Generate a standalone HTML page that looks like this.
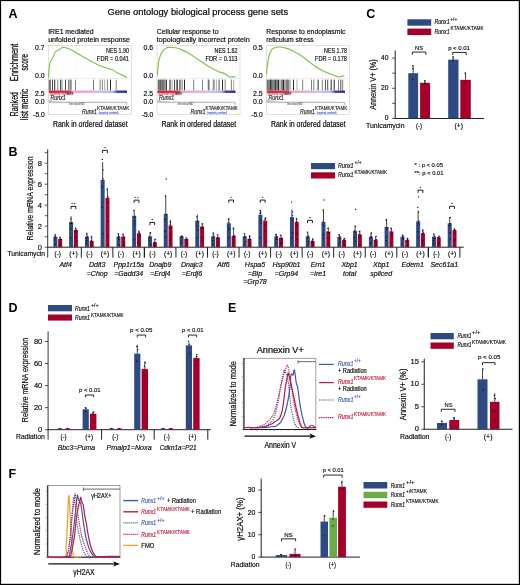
<!DOCTYPE html><html><head><meta charset="utf-8"><style>html,body{margin:0;padding:0;background:#fff;width:520px;height:585px;overflow:hidden}</style></head><body><svg width="520" height="585" viewBox="0 0 520 585" style="display:block;will-change:transform">
<g font-family='"Liberation Sans", sans-serif'>
<rect x="0.00" y="0.00" width="520.00" height="585.00" fill="#000"/>
<rect x="1.10" y="1.10" width="517.70" height="582.70" fill="#fff"/>
<text x="8.40" y="18.10" font-size="12.5" fill="#000" font-weight="bold" >A</text>
<text x="8.40" y="156.20" font-size="12.5" fill="#000" font-weight="bold" >B</text>
<text x="366.30" y="17.90" font-size="12.5" fill="#000" font-weight="bold" >C</text>
<text x="8.40" y="311.90" font-size="12.5" fill="#000" font-weight="bold" >D</text>
<text x="228.00" y="311.90" font-size="12.5" fill="#000" font-weight="bold" >E</text>
<text x="8.40" y="478.10" font-size="12.5" fill="#000" font-weight="bold" >F</text>
<text x="107.60" y="15.10" font-size="9.3" textLength="180.50" lengthAdjust="spacingAndGlyphs" stroke="#231f20" stroke-width="0.239" >Gene ontology biological process gene sets</text>
<text x="17.80" y="62.50" font-size="10.2" text-anchor="middle" textLength="37.50" lengthAdjust="spacingAndGlyphs" stroke="#231f20" stroke-width="0.262" transform="rotate(-90 17.80 62.50)" >Enrichment</text>
<text x="28.20" y="62.30" font-size="10.2" text-anchor="middle" textLength="16.50" lengthAdjust="spacingAndGlyphs" stroke="#231f20" stroke-width="0.262" transform="rotate(-90 28.20 62.30)" >score</text>
<text x="17.80" y="104.20" font-size="10.2" text-anchor="middle" textLength="24.50" lengthAdjust="spacingAndGlyphs" stroke="#231f20" stroke-width="0.262" transform="rotate(-90 17.80 104.20)" >Ranked</text>
<text x="28.40" y="104.40" font-size="10.2" text-anchor="middle" textLength="31.50" lengthAdjust="spacingAndGlyphs" stroke="#231f20" stroke-width="0.262" transform="rotate(-90 28.40 104.40)" >list metric</text>
<text x="48.20" y="33.80" font-size="7.6" textLength="45.40" lengthAdjust="spacingAndGlyphs" stroke="#231f20" stroke-width="0.195" >IRE1 mediated</text>
<text x="48.20" y="42.20" font-size="7.6" textLength="81.80" lengthAdjust="spacingAndGlyphs" stroke="#231f20" stroke-width="0.195" >unfolded protein response</text>
<rect x="48.50" y="45.60" width="83.00" height="69.00" fill="#fff" stroke="#d9d5c3" stroke-width="0.7"/>
<line x1="76.50" y1="46.00" x2="76.50" y2="78.30" stroke="#f3f3f3" stroke-width="0.4" />
<line x1="76.50" y1="93.00" x2="76.50" y2="114.30" stroke="#f3f3f3" stroke-width="0.4" />
<line x1="104.50" y1="46.00" x2="104.50" y2="78.30" stroke="#f3f3f3" stroke-width="0.4" />
<line x1="104.50" y1="93.00" x2="104.50" y2="114.30" stroke="#f3f3f3" stroke-width="0.4" />
<line x1="48.90" y1="54.00" x2="131.10" y2="54.00" stroke="#f3f3f3" stroke-width="0.4" />
<line x1="48.90" y1="62.00" x2="131.10" y2="62.00" stroke="#f3f3f3" stroke-width="0.4" />
<line x1="48.90" y1="70.00" x2="131.10" y2="70.00" stroke="#f3f3f3" stroke-width="0.4" />
<line x1="48.90" y1="101.50" x2="131.10" y2="101.50" stroke="#f3f3f3" stroke-width="0.4" />
<line x1="48.90" y1="108.00" x2="131.10" y2="108.00" stroke="#f3f3f3" stroke-width="0.4" />
<line x1="48.50" y1="78.50" x2="131.50" y2="78.50" stroke="#dcdcdc" stroke-width="0.5" />
<line x1="48.50" y1="93.00" x2="131.50" y2="93.00" stroke="#dcdcdc" stroke-width="0.5" />
<path d="M48.50,77.90 C48.55,76.92 48.70,73.57 48.80,72.00 C48.90,70.43 48.87,70.07 49.10,68.50 C49.33,66.93 49.85,63.93 50.20,62.60 C50.55,61.27 50.92,61.05 51.20,60.50 C51.48,59.95 51.60,59.80 51.90,59.30 C52.20,58.80 52.72,58.07 53.00,57.50 C53.28,56.93 53.22,56.85 53.60,55.90 C53.98,54.95 54.82,52.58 55.30,51.80 C55.78,51.02 56.07,51.43 56.50,51.20 C56.93,50.97 57.45,50.67 57.90,50.40 C58.35,50.13 58.78,49.88 59.20,49.60 C59.62,49.32 59.83,49.07 60.40,48.70 C60.97,48.33 61.75,47.57 62.60,47.40 C63.45,47.23 64.03,47.28 65.50,47.70 C66.97,48.12 69.00,48.68 71.40,49.90 C73.80,51.12 75.67,52.60 79.90,55.00 C84.13,57.40 92.45,62.17 96.80,64.30 C101.15,66.43 103.73,66.95 106.00,67.80 C108.27,68.65 109.40,69.10 110.40,69.40 C111.40,69.70 110.87,69.03 112.00,69.60 C113.13,70.17 114.70,71.50 117.20,72.80 C119.70,74.10 125.37,76.63 127.00,77.40" stroke="#84c04c" stroke-width="1.15" fill="none" stroke-linejoin="round" />
<line x1="49.30" y1="79.60" x2="49.30" y2="90.40" stroke="#444" stroke-width="0.95" />
<line x1="50.50" y1="79.60" x2="50.50" y2="90.40" stroke="#7a7a7a" stroke-width="0.95" />
<line x1="52.50" y1="79.60" x2="52.50" y2="90.40" stroke="#444" stroke-width="0.95" />
<line x1="54.70" y1="79.60" x2="54.70" y2="90.40" stroke="#1e1e1e" stroke-width="0.95" />
<line x1="57.80" y1="79.60" x2="57.80" y2="90.40" stroke="#7a7a7a" stroke-width="0.95" />
<line x1="60.50" y1="79.60" x2="60.50" y2="90.40" stroke="#444" stroke-width="0.95" />
<line x1="62.00" y1="79.60" x2="62.00" y2="90.40" stroke="#7a7a7a" stroke-width="0.95" />
<line x1="65.50" y1="79.60" x2="65.50" y2="90.40" stroke="#444" stroke-width="0.95" />
<line x1="68.50" y1="79.60" x2="68.50" y2="90.40" stroke="#7a7a7a" stroke-width="0.95" />
<line x1="70.10" y1="79.60" x2="70.10" y2="90.40" stroke="#444" stroke-width="0.95" />
<line x1="71.20" y1="79.60" x2="71.20" y2="90.40" stroke="#7a7a7a" stroke-width="0.95" />
<line x1="75.50" y1="79.60" x2="75.50" y2="90.40" stroke="#7a7a7a" stroke-width="0.95" />
<line x1="93.50" y1="79.60" x2="93.50" y2="90.40" stroke="#7a7a7a" stroke-width="0.95" />
<line x1="100.10" y1="79.60" x2="100.10" y2="90.40" stroke="#7a7a7a" stroke-width="0.95" />
<line x1="102.40" y1="79.60" x2="102.40" y2="90.40" stroke="#7a7a7a" stroke-width="0.95" />
<line x1="104.70" y1="79.60" x2="104.70" y2="90.40" stroke="#aaa" stroke-width="0.95" />
<line x1="107.40" y1="79.60" x2="107.40" y2="90.40" stroke="#7a7a7a" stroke-width="0.95" />
<line x1="110.50" y1="79.60" x2="110.50" y2="90.40" stroke="#1e1e1e" stroke-width="0.95" />
<line x1="116.20" y1="79.60" x2="116.20" y2="90.40" stroke="#7a7a7a" stroke-width="0.95" />
<defs><linearGradient id="cb48" x1="0" x2="1"><stop offset="0" stop-color="#cc1f3a"/><stop offset="0.26" stop-color="#d0304a"/><stop offset="0.31" stop-color="#e0a6c8"/><stop offset="0.6" stop-color="#e4b4d6"/><stop offset="0.65" stop-color="#c8c8ec"/><stop offset="0.82" stop-color="#b4b4e4"/><stop offset="0.88" stop-color="#3b3f9e"/><stop offset="1" stop-color="#2b2f8c"/></linearGradient></defs>
<rect x="48.90" y="90.50" width="78.10" height="2.40" fill="url(#cb48)"/>
<path d="M49.0,100.2 C52.5,101.2 58.5,101.9 68.5,102.1 L126.0,102.3 L126.8,105.2 L126.8,102.6 L49.0,102.6 Z" fill="#c4c4c4" stroke="#9a9a9a" stroke-width="0.4"/>
<text x="49.80" y="94.60" font-size="2.6" textLength="22.00" lengthAdjust="spacingAndGlyphs" fill="#d62a3a" stroke="#d62a3a" stroke-width="0.067" >(positively correlated)</text>
<text x="50.50" y="99.50" font-size="7.2" textLength="15.20" lengthAdjust="spacingAndGlyphs" fill="#222" font-style="italic" stroke="#222" stroke-width="0.185" >Runx1</text>
<text x="66.50" y="95.40" font-size="4.8" textLength="7.40" lengthAdjust="spacingAndGlyphs" fill="#333" stroke="#333" stroke-width="0.123" >+/+</text>
<text x="69.00" y="104.60" font-size="2.6" textLength="15.70" lengthAdjust="spacingAndGlyphs" fill="#555" stroke="#555" stroke-width="0.067" >Zero cross at 8802</text>
<text x="82.00" y="113.70" font-size="7.2" textLength="15.00" lengthAdjust="spacingAndGlyphs" fill="#222" font-style="italic" stroke="#222" stroke-width="0.185" >Runx1</text>
<text x="97.10" y="110.40" font-size="4.9" textLength="32.20" lengthAdjust="spacingAndGlyphs" fill="#222" stroke="#222" stroke-width="0.126" >KTAMK/KTAMK</text>
<text x="98.70" y="113.70" font-size="2.6" textLength="19.80" lengthAdjust="spacingAndGlyphs" fill="#3a4ad6" stroke="#3a4ad6" stroke-width="0.067" >(negatively correlated)</text>
<text x="129.00" y="52.60" font-size="6.3" text-anchor="end" textLength="23.00" lengthAdjust="spacingAndGlyphs" stroke="#231f20" stroke-width="0.162" >NES 1.90</text>
<text x="129.00" y="60.50" font-size="6.3" text-anchor="end" textLength="32.00" lengthAdjust="spacingAndGlyphs" stroke="#231f20" stroke-width="0.162" >FDR = 0.041</text>
<text x="44.70" y="50.00" font-size="7.8" text-anchor="end" textLength="9.60" lengthAdjust="spacingAndGlyphs" stroke="#231f20" stroke-width="0.201" >0.7</text>
<text x="44.70" y="78.40" font-size="7.8" text-anchor="end" textLength="9.60" lengthAdjust="spacingAndGlyphs" stroke="#231f20" stroke-width="0.201" >0.0</text>
<text x="44.70" y="96.10" font-size="7.8" text-anchor="end" textLength="9.60" lengthAdjust="spacingAndGlyphs" stroke="#231f20" stroke-width="0.201" >2.5</text>
<text x="44.70" y="103.80" font-size="7.8" text-anchor="end" textLength="9.60" lengthAdjust="spacingAndGlyphs" stroke="#231f20" stroke-width="0.201" >0.0</text>
<text x="44.70" y="116.60" font-size="7.8" text-anchor="end" textLength="11.50" lengthAdjust="spacingAndGlyphs" stroke="#231f20" stroke-width="0.201" >-5.0</text>
<text x="52.90" y="127.10" font-size="8.8" textLength="74.80" lengthAdjust="spacingAndGlyphs" stroke="#231f20" stroke-width="0.226" >Rank in ordered dataset</text>
<text x="156.70" y="33.80" font-size="7.6" textLength="62.00" lengthAdjust="spacingAndGlyphs" stroke="#231f20" stroke-width="0.195" >Cellular response to</text>
<text x="156.70" y="42.20" font-size="7.6" textLength="93.00" lengthAdjust="spacingAndGlyphs" stroke="#231f20" stroke-width="0.195" >topologically incorrect protein</text>
<rect x="157.00" y="45.60" width="83.00" height="69.00" fill="#fff" stroke="#d9d5c3" stroke-width="0.7"/>
<line x1="185.00" y1="46.00" x2="185.00" y2="78.30" stroke="#f3f3f3" stroke-width="0.4" />
<line x1="185.00" y1="93.00" x2="185.00" y2="114.30" stroke="#f3f3f3" stroke-width="0.4" />
<line x1="213.00" y1="46.00" x2="213.00" y2="78.30" stroke="#f3f3f3" stroke-width="0.4" />
<line x1="213.00" y1="93.00" x2="213.00" y2="114.30" stroke="#f3f3f3" stroke-width="0.4" />
<line x1="157.40" y1="54.00" x2="239.60" y2="54.00" stroke="#f3f3f3" stroke-width="0.4" />
<line x1="157.40" y1="62.00" x2="239.60" y2="62.00" stroke="#f3f3f3" stroke-width="0.4" />
<line x1="157.40" y1="70.00" x2="239.60" y2="70.00" stroke="#f3f3f3" stroke-width="0.4" />
<line x1="157.40" y1="101.50" x2="239.60" y2="101.50" stroke="#f3f3f3" stroke-width="0.4" />
<line x1="157.40" y1="108.00" x2="239.60" y2="108.00" stroke="#f3f3f3" stroke-width="0.4" />
<line x1="157.00" y1="78.50" x2="240.00" y2="78.50" stroke="#dcdcdc" stroke-width="0.5" />
<line x1="157.00" y1="93.00" x2="240.00" y2="93.00" stroke="#dcdcdc" stroke-width="0.5" />
<path d="M157.50,75.30 C157.55,74.25 157.67,70.88 157.80,69.00 C157.93,67.12 158.07,65.63 158.30,64.00 C158.53,62.37 158.77,60.83 159.20,59.20 C159.63,57.57 160.40,55.40 160.90,54.20 C161.40,53.00 161.77,52.72 162.20,52.00 C162.63,51.28 162.87,50.53 163.50,49.90 C164.13,49.27 165.17,48.62 166.00,48.20 C166.83,47.78 166.95,47.48 168.50,47.40 C170.05,47.32 173.32,47.42 175.30,47.70 C177.28,47.98 178.15,48.17 180.40,49.10 C182.65,50.03 185.70,51.47 188.80,53.30 C191.90,55.13 195.62,57.85 199.00,60.10 C202.38,62.35 205.72,64.83 209.10,66.80 C212.48,68.77 217.15,70.93 219.30,71.90 C221.45,72.87 220.87,72.17 222.00,72.60 C223.13,73.03 224.72,73.77 226.10,74.50 C227.48,75.23 229.32,76.65 230.30,77.00 C231.28,77.35 231.15,76.60 232.00,76.60 C232.85,76.60 234.83,76.93 235.40,77.00" stroke="#84c04c" stroke-width="1.15" fill="none" stroke-linejoin="round" />
<line x1="158.30" y1="79.60" x2="158.30" y2="90.40" stroke="#444" stroke-width="0.95" />
<line x1="159.50" y1="79.60" x2="159.50" y2="90.40" stroke="#7a7a7a" stroke-width="0.95" />
<line x1="160.40" y1="79.60" x2="160.40" y2="90.40" stroke="#444" stroke-width="0.95" />
<line x1="161.40" y1="79.60" x2="161.40" y2="90.40" stroke="#7a7a7a" stroke-width="0.95" />
<line x1="162.30" y1="79.60" x2="162.30" y2="90.40" stroke="#444" stroke-width="0.95" />
<line x1="163.30" y1="79.60" x2="163.30" y2="90.40" stroke="#7a7a7a" stroke-width="0.95" />
<line x1="164.10" y1="79.60" x2="164.10" y2="90.40" stroke="#444" stroke-width="0.95" />
<line x1="165.20" y1="79.60" x2="165.20" y2="90.40" stroke="#7a7a7a" stroke-width="0.95" />
<line x1="166.40" y1="79.60" x2="166.40" y2="90.40" stroke="#1e1e1e" stroke-width="0.95" />
<line x1="169.50" y1="79.60" x2="169.50" y2="90.40" stroke="#7a7a7a" stroke-width="0.95" />
<line x1="170.60" y1="79.60" x2="170.60" y2="90.40" stroke="#7a7a7a" stroke-width="0.95" />
<line x1="172.20" y1="79.60" x2="172.20" y2="90.40" stroke="#aaa" stroke-width="0.95" />
<line x1="174.50" y1="79.60" x2="174.50" y2="90.40" stroke="#444" stroke-width="0.95" />
<line x1="176.40" y1="79.60" x2="176.40" y2="90.40" stroke="#7a7a7a" stroke-width="0.95" />
<line x1="177.50" y1="79.60" x2="177.50" y2="90.40" stroke="#444" stroke-width="0.95" />
<line x1="179.50" y1="79.60" x2="179.50" y2="90.40" stroke="#7a7a7a" stroke-width="0.95" />
<line x1="180.60" y1="79.60" x2="180.60" y2="90.40" stroke="#7a7a7a" stroke-width="0.95" />
<line x1="182.20" y1="79.60" x2="182.20" y2="90.40" stroke="#7a7a7a" stroke-width="0.95" />
<line x1="184.50" y1="79.60" x2="184.50" y2="90.40" stroke="#1e1e1e" stroke-width="0.95" />
<line x1="193.70" y1="79.60" x2="193.70" y2="90.40" stroke="#7a7a7a" stroke-width="0.95" />
<line x1="202.50" y1="79.60" x2="202.50" y2="90.40" stroke="#7a7a7a" stroke-width="0.95" />
<line x1="208.30" y1="79.60" x2="208.30" y2="90.40" stroke="#444" stroke-width="0.95" />
<line x1="209.10" y1="79.60" x2="209.10" y2="90.40" stroke="#7a7a7a" stroke-width="0.95" />
<line x1="213.30" y1="79.60" x2="213.30" y2="90.40" stroke="#7a7a7a" stroke-width="0.95" />
<line x1="214.10" y1="79.60" x2="214.10" y2="90.40" stroke="#7a7a7a" stroke-width="0.95" />
<line x1="216.40" y1="79.60" x2="216.40" y2="90.40" stroke="#aaa" stroke-width="0.95" />
<line x1="219.10" y1="79.60" x2="219.10" y2="90.40" stroke="#444" stroke-width="0.95" />
<line x1="222.50" y1="79.60" x2="222.50" y2="90.40" stroke="#1e1e1e" stroke-width="0.95" />
<line x1="225.20" y1="79.60" x2="225.20" y2="90.40" stroke="#7a7a7a" stroke-width="0.95" />
<line x1="231.40" y1="79.60" x2="231.40" y2="90.40" stroke="#7a7a7a" stroke-width="0.95" />
<line x1="233.70" y1="79.60" x2="233.70" y2="90.40" stroke="#aaa" stroke-width="0.95" />
<defs><linearGradient id="cb157" x1="0" x2="1"><stop offset="0" stop-color="#cc1f3a"/><stop offset="0.26" stop-color="#d0304a"/><stop offset="0.31" stop-color="#e0a6c8"/><stop offset="0.6" stop-color="#e4b4d6"/><stop offset="0.65" stop-color="#c8c8ec"/><stop offset="0.82" stop-color="#b4b4e4"/><stop offset="0.88" stop-color="#3b3f9e"/><stop offset="1" stop-color="#2b2f8c"/></linearGradient></defs>
<rect x="157.40" y="90.50" width="78.10" height="2.40" fill="url(#cb157)"/>
<path d="M157.5,100.2 C161,101.2 167,101.9 177,102.1 L234.5,102.3 L235.3,105.2 L235.3,102.6 L157.5,102.6 Z" fill="#c4c4c4" stroke="#9a9a9a" stroke-width="0.4"/>
<text x="158.30" y="94.60" font-size="2.6" textLength="22.00" lengthAdjust="spacingAndGlyphs" fill="#d62a3a" stroke="#d62a3a" stroke-width="0.067" >(positively correlated)</text>
<text x="159.00" y="99.50" font-size="7.2" textLength="15.20" lengthAdjust="spacingAndGlyphs" fill="#222" font-style="italic" stroke="#222" stroke-width="0.185" >Runx1</text>
<text x="175.00" y="95.40" font-size="4.8" textLength="7.40" lengthAdjust="spacingAndGlyphs" fill="#333" stroke="#333" stroke-width="0.123" >+/+</text>
<text x="177.50" y="104.60" font-size="2.6" textLength="15.70" lengthAdjust="spacingAndGlyphs" fill="#555" stroke="#555" stroke-width="0.067" >Zero cross at 8802</text>
<text x="190.50" y="113.70" font-size="7.2" textLength="15.00" lengthAdjust="spacingAndGlyphs" fill="#222" font-style="italic" stroke="#222" stroke-width="0.185" >Runx1</text>
<text x="205.60" y="110.40" font-size="4.9" textLength="32.20" lengthAdjust="spacingAndGlyphs" fill="#222" stroke="#222" stroke-width="0.126" >KTAMK/KTAMK</text>
<text x="207.20" y="113.70" font-size="2.6" textLength="19.80" lengthAdjust="spacingAndGlyphs" fill="#3a4ad6" stroke="#3a4ad6" stroke-width="0.067" >(negatively correlated)</text>
<text x="237.50" y="52.60" font-size="6.3" text-anchor="end" textLength="23.00" lengthAdjust="spacingAndGlyphs" stroke="#231f20" stroke-width="0.162" >NES 1.82</text>
<text x="237.50" y="60.50" font-size="6.3" text-anchor="end" textLength="32.00" lengthAdjust="spacingAndGlyphs" stroke="#231f20" stroke-width="0.162" >FDR = 0.113</text>
<text x="153.20" y="50.00" font-size="7.8" text-anchor="end" textLength="9.60" lengthAdjust="spacingAndGlyphs" stroke="#231f20" stroke-width="0.201" >0.6</text>
<text x="153.20" y="78.40" font-size="7.8" text-anchor="end" textLength="9.60" lengthAdjust="spacingAndGlyphs" stroke="#231f20" stroke-width="0.201" >0.0</text>
<text x="153.20" y="96.10" font-size="7.8" text-anchor="end" textLength="9.60" lengthAdjust="spacingAndGlyphs" stroke="#231f20" stroke-width="0.201" >2.5</text>
<text x="153.20" y="103.80" font-size="7.8" text-anchor="end" textLength="9.60" lengthAdjust="spacingAndGlyphs" stroke="#231f20" stroke-width="0.201" >0.0</text>
<text x="153.20" y="116.60" font-size="7.8" text-anchor="end" textLength="11.50" lengthAdjust="spacingAndGlyphs" stroke="#231f20" stroke-width="0.201" >-5.0</text>
<text x="161.40" y="127.10" font-size="8.8" textLength="74.80" lengthAdjust="spacingAndGlyphs" stroke="#231f20" stroke-width="0.226" >Rank in ordered dataset</text>
<text x="266.20" y="33.80" font-size="7.6" textLength="79.20" lengthAdjust="spacingAndGlyphs" stroke="#231f20" stroke-width="0.195" >Response to endoplasmic</text>
<text x="266.20" y="42.20" font-size="7.6" textLength="47.50" lengthAdjust="spacingAndGlyphs" stroke="#231f20" stroke-width="0.195" >reticulum stress</text>
<rect x="266.50" y="45.60" width="83.00" height="69.00" fill="#fff" stroke="#d9d5c3" stroke-width="0.7"/>
<line x1="294.50" y1="46.00" x2="294.50" y2="78.30" stroke="#f3f3f3" stroke-width="0.4" />
<line x1="294.50" y1="93.00" x2="294.50" y2="114.30" stroke="#f3f3f3" stroke-width="0.4" />
<line x1="322.50" y1="46.00" x2="322.50" y2="78.30" stroke="#f3f3f3" stroke-width="0.4" />
<line x1="322.50" y1="93.00" x2="322.50" y2="114.30" stroke="#f3f3f3" stroke-width="0.4" />
<line x1="266.90" y1="54.00" x2="349.10" y2="54.00" stroke="#f3f3f3" stroke-width="0.4" />
<line x1="266.90" y1="62.00" x2="349.10" y2="62.00" stroke="#f3f3f3" stroke-width="0.4" />
<line x1="266.90" y1="70.00" x2="349.10" y2="70.00" stroke="#f3f3f3" stroke-width="0.4" />
<line x1="266.90" y1="101.50" x2="349.10" y2="101.50" stroke="#f3f3f3" stroke-width="0.4" />
<line x1="266.90" y1="108.00" x2="349.10" y2="108.00" stroke="#f3f3f3" stroke-width="0.4" />
<line x1="266.50" y1="78.50" x2="349.50" y2="78.50" stroke="#dcdcdc" stroke-width="0.5" />
<line x1="266.50" y1="93.00" x2="349.50" y2="93.00" stroke="#dcdcdc" stroke-width="0.5" />
<path d="M266.50,74.50 C266.58,73.42 266.83,69.70 267.00,68.00 C267.17,66.30 267.15,66.33 267.50,64.30 C267.85,62.27 268.42,58.20 269.10,55.80 C269.78,53.40 270.62,51.25 271.60,49.90 C272.58,48.55 273.73,48.18 275.00,47.70 C276.27,47.22 277.65,47.00 279.20,47.00 C280.75,47.00 282.32,47.22 284.30,47.70 C286.28,48.18 288.28,48.55 291.10,49.90 C293.92,51.25 297.82,53.53 301.20,55.80 C304.58,58.07 308.02,61.10 311.40,63.50 C314.78,65.90 318.12,68.37 321.50,70.20 C324.88,72.03 328.87,73.37 331.70,74.50 C334.53,75.63 336.82,76.73 338.50,77.00 C340.18,77.27 340.82,76.30 341.80,76.10 C342.78,75.90 343.97,75.85 344.40,75.80" stroke="#84c04c" stroke-width="1.15" fill="none" stroke-linejoin="round" />
<line x1="267.30" y1="79.60" x2="267.30" y2="90.40" stroke="#444" stroke-width="0.95" />
<line x1="268.50" y1="79.60" x2="268.50" y2="90.40" stroke="#7a7a7a" stroke-width="0.95" />
<line x1="269.50" y1="79.60" x2="269.50" y2="90.40" stroke="#7a7a7a" stroke-width="0.95" />
<line x1="270.50" y1="79.60" x2="270.50" y2="90.40" stroke="#1e1e1e" stroke-width="0.95" />
<line x1="271.30" y1="79.60" x2="271.30" y2="90.40" stroke="#7a7a7a" stroke-width="0.95" />
<line x1="272.10" y1="79.60" x2="272.10" y2="90.40" stroke="#1e1e1e" stroke-width="0.95" />
<line x1="273.60" y1="79.60" x2="273.60" y2="90.40" stroke="#7a7a7a" stroke-width="0.95" />
<line x1="274.50" y1="79.60" x2="274.50" y2="90.40" stroke="#7a7a7a" stroke-width="0.95" />
<line x1="275.40" y1="79.60" x2="275.40" y2="90.40" stroke="#1e1e1e" stroke-width="0.95" />
<line x1="276.50" y1="79.60" x2="276.50" y2="90.40" stroke="#7a7a7a" stroke-width="0.95" />
<line x1="277.50" y1="79.60" x2="277.50" y2="90.40" stroke="#7a7a7a" stroke-width="0.95" />
<line x1="278.50" y1="79.60" x2="278.50" y2="90.40" stroke="#1e1e1e" stroke-width="0.95" />
<line x1="280.00" y1="79.60" x2="280.00" y2="90.40" stroke="#7a7a7a" stroke-width="0.95" />
<line x1="281.50" y1="79.60" x2="281.50" y2="90.40" stroke="#7a7a7a" stroke-width="0.95" />
<line x1="282.50" y1="79.60" x2="282.50" y2="90.40" stroke="#7a7a7a" stroke-width="0.95" />
<line x1="283.50" y1="79.60" x2="283.50" y2="90.40" stroke="#1e1e1e" stroke-width="0.95" />
<line x1="284.80" y1="79.60" x2="284.80" y2="90.40" stroke="#7a7a7a" stroke-width="0.95" />
<line x1="286.20" y1="79.60" x2="286.20" y2="90.40" stroke="#444" stroke-width="0.95" />
<line x1="287.10" y1="79.60" x2="287.10" y2="90.40" stroke="#7a7a7a" stroke-width="0.95" />
<line x1="288.10" y1="79.60" x2="288.10" y2="90.40" stroke="#1e1e1e" stroke-width="0.95" />
<line x1="290.00" y1="79.60" x2="290.00" y2="90.40" stroke="#7a7a7a" stroke-width="0.95" />
<line x1="293.50" y1="79.60" x2="293.50" y2="90.40" stroke="#1e1e1e" stroke-width="0.95" />
<line x1="297.00" y1="79.60" x2="297.00" y2="90.40" stroke="#aaa" stroke-width="0.95" />
<line x1="302.70" y1="79.60" x2="302.70" y2="90.40" stroke="#7a7a7a" stroke-width="0.95" />
<line x1="311.50" y1="79.60" x2="311.50" y2="90.40" stroke="#7a7a7a" stroke-width="0.95" />
<line x1="313.80" y1="79.60" x2="313.80" y2="90.40" stroke="#7a7a7a" stroke-width="0.95" />
<line x1="318.10" y1="79.60" x2="318.10" y2="90.40" stroke="#1e1e1e" stroke-width="0.95" />
<line x1="322.30" y1="79.60" x2="322.30" y2="90.40" stroke="#7a7a7a" stroke-width="0.95" />
<line x1="325.40" y1="79.60" x2="325.40" y2="90.40" stroke="#444" stroke-width="0.95" />
<line x1="327.70" y1="79.60" x2="327.70" y2="90.40" stroke="#444" stroke-width="0.95" />
<line x1="331.20" y1="79.60" x2="331.20" y2="90.40" stroke="#1e1e1e" stroke-width="0.95" />
<line x1="334.20" y1="79.60" x2="334.20" y2="90.40" stroke="#1e1e1e" stroke-width="0.95" />
<line x1="338.50" y1="79.60" x2="338.50" y2="90.40" stroke="#7a7a7a" stroke-width="0.95" />
<line x1="340.80" y1="79.60" x2="340.80" y2="90.40" stroke="#444" stroke-width="0.95" />
<line x1="342.70" y1="79.60" x2="342.70" y2="90.40" stroke="#7a7a7a" stroke-width="0.95" />
<defs><linearGradient id="cb266" x1="0" x2="1"><stop offset="0" stop-color="#cc1f3a"/><stop offset="0.26" stop-color="#d0304a"/><stop offset="0.31" stop-color="#e0a6c8"/><stop offset="0.6" stop-color="#e4b4d6"/><stop offset="0.65" stop-color="#c8c8ec"/><stop offset="0.82" stop-color="#b4b4e4"/><stop offset="0.88" stop-color="#3b3f9e"/><stop offset="1" stop-color="#2b2f8c"/></linearGradient></defs>
<rect x="266.90" y="90.50" width="78.10" height="2.40" fill="url(#cb266)"/>
<path d="M267.0,100.2 C270.5,101.2 276.5,101.9 286.5,102.1 L344.0,102.3 L344.8,105.2 L344.8,102.6 L267.0,102.6 Z" fill="#c4c4c4" stroke="#9a9a9a" stroke-width="0.4"/>
<text x="267.80" y="94.60" font-size="2.6" textLength="22.00" lengthAdjust="spacingAndGlyphs" fill="#d62a3a" stroke="#d62a3a" stroke-width="0.067" >(positively correlated)</text>
<text x="268.50" y="99.50" font-size="7.2" textLength="15.20" lengthAdjust="spacingAndGlyphs" fill="#222" font-style="italic" stroke="#222" stroke-width="0.185" >Runx1</text>
<text x="284.50" y="95.40" font-size="4.8" textLength="7.40" lengthAdjust="spacingAndGlyphs" fill="#333" stroke="#333" stroke-width="0.123" >+/+</text>
<text x="287.00" y="104.60" font-size="2.6" textLength="15.70" lengthAdjust="spacingAndGlyphs" fill="#555" stroke="#555" stroke-width="0.067" >Zero cross at 8802</text>
<text x="300.00" y="113.70" font-size="7.2" textLength="15.00" lengthAdjust="spacingAndGlyphs" fill="#222" font-style="italic" stroke="#222" stroke-width="0.185" >Runx1</text>
<text x="315.10" y="110.40" font-size="4.9" textLength="32.20" lengthAdjust="spacingAndGlyphs" fill="#222" stroke="#222" stroke-width="0.126" >KTAMK/KTAMK</text>
<text x="316.70" y="113.70" font-size="2.6" textLength="19.80" lengthAdjust="spacingAndGlyphs" fill="#3a4ad6" stroke="#3a4ad6" stroke-width="0.067" >(negatively correlated)</text>
<text x="347.00" y="52.60" font-size="6.3" text-anchor="end" textLength="23.00" lengthAdjust="spacingAndGlyphs" stroke="#231f20" stroke-width="0.162" >NES 1.78</text>
<text x="347.00" y="60.50" font-size="6.3" text-anchor="end" textLength="32.00" lengthAdjust="spacingAndGlyphs" stroke="#231f20" stroke-width="0.162" >FDR = 0.178</text>
<text x="262.70" y="50.00" font-size="7.8" text-anchor="end" textLength="9.60" lengthAdjust="spacingAndGlyphs" stroke="#231f20" stroke-width="0.201" >0.5</text>
<text x="262.70" y="78.40" font-size="7.8" text-anchor="end" textLength="9.60" lengthAdjust="spacingAndGlyphs" stroke="#231f20" stroke-width="0.201" >0.0</text>
<text x="262.70" y="96.10" font-size="7.8" text-anchor="end" textLength="9.60" lengthAdjust="spacingAndGlyphs" stroke="#231f20" stroke-width="0.201" >2.5</text>
<text x="262.70" y="103.80" font-size="7.8" text-anchor="end" textLength="9.60" lengthAdjust="spacingAndGlyphs" stroke="#231f20" stroke-width="0.201" >0.0</text>
<text x="262.70" y="116.60" font-size="7.8" text-anchor="end" textLength="11.50" lengthAdjust="spacingAndGlyphs" stroke="#231f20" stroke-width="0.201" >-5.0</text>
<text x="270.90" y="127.10" font-size="8.8" textLength="74.80" lengthAdjust="spacingAndGlyphs" stroke="#231f20" stroke-width="0.226" >Rank in ordered dataset</text>
<rect x="407.40" y="19.30" width="23.80" height="6.40" fill="#2d4a82"/>
<rect x="407.40" y="28.60" width="23.80" height="6.50" fill="#a5002b"/>
<text x="434.40" y="24.40" font-size="6.5" textLength="15.20" lengthAdjust="spacingAndGlyphs" font-style="italic" stroke="#231f20" stroke-width="0.167" >Runx1</text>
<text x="450.30" y="21.00" font-size="4.8" textLength="7.00" lengthAdjust="spacingAndGlyphs" stroke="#231f20" stroke-width="0.123" >+/+</text>
<text x="434.40" y="33.80" font-size="6.5" textLength="15.20" lengthAdjust="spacingAndGlyphs" font-style="italic" stroke="#231f20" stroke-width="0.167" >Runx1</text>
<text x="450.60" y="30.20" font-size="4.8" textLength="33.00" lengthAdjust="spacingAndGlyphs" stroke="#231f20" stroke-width="0.123" >KTAMK/KTAMK</text>
<line x1="395.20" y1="50.60" x2="395.20" y2="118.90" stroke="#231f20" stroke-width="1.0" />
<line x1="394.70" y1="118.50" x2="484.00" y2="118.50" stroke="#231f20" stroke-width="1.0" />
<line x1="392.20" y1="118.40" x2="395.20" y2="118.40" stroke="#231f20" stroke-width="0.8" />
<line x1="392.20" y1="103.33" x2="395.20" y2="103.33" stroke="#231f20" stroke-width="0.8" />
<line x1="392.20" y1="88.26" x2="395.20" y2="88.26" stroke="#231f20" stroke-width="0.8" />
<line x1="392.20" y1="73.19" x2="395.20" y2="73.19" stroke="#231f20" stroke-width="0.8" />
<line x1="392.20" y1="58.12" x2="395.20" y2="58.12" stroke="#231f20" stroke-width="0.8" />
<text x="388.60" y="120.40" font-size="7.6" text-anchor="end" textLength="3.75" lengthAdjust="spacingAndGlyphs" stroke="#231f20" stroke-width="0.195" >0</text>
<text x="388.60" y="90.26" font-size="7.6" text-anchor="end" textLength="7.50" lengthAdjust="spacingAndGlyphs" stroke="#231f20" stroke-width="0.195" >20</text>
<text x="388.60" y="60.12" font-size="7.6" text-anchor="end" textLength="7.50" lengthAdjust="spacingAndGlyphs" stroke="#231f20" stroke-width="0.195" >40</text>
<rect x="408.30" y="73.19" width="9.80" height="45.21" fill="#2d4a82"/>
<line x1="413.20" y1="73.19" x2="413.20" y2="65.66" stroke="#231f20" stroke-width="0.85" />
<ellipse cx="412.80" cy="65.66" rx="0.75" ry="0.65" fill="#111"/>
<ellipse cx="412.80" cy="68.67" rx="0.75" ry="0.65" fill="#111"/>
<ellipse cx="412.80" cy="79.22" rx="0.75" ry="0.65" fill="#111"/>
<rect x="420.10" y="82.83" width="10.00" height="35.57" fill="#a5002b"/>
<line x1="425.10" y1="82.83" x2="425.10" y2="80.42" stroke="#231f20" stroke-width="0.85" />
<ellipse cx="424.70" cy="80.73" rx="0.75" ry="0.65" fill="#111"/>
<ellipse cx="424.70" cy="82.99" rx="0.75" ry="0.65" fill="#111"/>
<ellipse cx="424.70" cy="83.74" rx="0.75" ry="0.65" fill="#111"/>
<rect x="448.20" y="59.63" width="10.30" height="58.77" fill="#2d4a82"/>
<line x1="453.35" y1="59.63" x2="453.35" y2="56.61" stroke="#231f20" stroke-width="0.85" />
<ellipse cx="452.95" cy="56.61" rx="0.75" ry="0.65" fill="#111"/>
<ellipse cx="452.95" cy="58.87" rx="0.75" ry="0.65" fill="#111"/>
<ellipse cx="452.95" cy="61.13" rx="0.75" ry="0.65" fill="#111"/>
<rect x="460.30" y="79.82" width="10.50" height="38.58" fill="#a5002b"/>
<line x1="465.55" y1="79.82" x2="465.55" y2="72.44" stroke="#231f20" stroke-width="0.85" />
<ellipse cx="465.15" cy="73.19" rx="0.75" ry="0.65" fill="#111"/>
<ellipse cx="466.05" cy="81.48" rx="0.75" ry="0.65" fill="#111"/>
<path d="M412.30,54.40 L412.30,52.05 L425.80,52.05 L425.80,54.40" stroke="#111" stroke-width="0.9" fill="none" stroke-linejoin="round" stroke-linecap="square"/>
<path d="M452.80,54.60 L452.80,52.45 L466.20,52.45 L466.20,54.60" stroke="#111" stroke-width="0.9" fill="none" stroke-linejoin="round" stroke-linecap="square"/>
<text x="419.00" y="49.90" font-size="6.2" text-anchor="middle" textLength="8.20" lengthAdjust="spacingAndGlyphs" stroke="#231f20" stroke-width="0.159" >NS</text>
<text x="459.00" y="49.90" font-size="6.2" text-anchor="middle" textLength="21.70" lengthAdjust="spacingAndGlyphs" stroke="#231f20" stroke-width="0.159" >p &lt; 0.01</text>
<text x="376.00" y="84.60" font-size="8.6" text-anchor="middle" textLength="50.50" lengthAdjust="spacingAndGlyphs" stroke="#231f20" stroke-width="0.221" transform="rotate(-90 376.00 84.60)" >Annexin V+ (%)</text>
<text x="366.00" y="128.30" font-size="7" textLength="38.50" lengthAdjust="spacingAndGlyphs" stroke="#231f20" stroke-width="0.180" >Tunicamycin</text>
<text x="419.00" y="128.30" font-size="6.8" text-anchor="middle" textLength="6.00" lengthAdjust="spacingAndGlyphs" stroke="#231f20" stroke-width="0.175" >(-)</text>
<text x="458.80" y="128.30" font-size="6.8" text-anchor="middle" textLength="8.40" lengthAdjust="spacingAndGlyphs" stroke="#231f20" stroke-width="0.175" >(+)</text>
<line x1="47.70" y1="149.20" x2="47.70" y2="257.60" stroke="#231f20" stroke-width="0.9" />
<line x1="47.30" y1="247.20" x2="463.80" y2="247.20" stroke="#231f20" stroke-width="1.0" />
<line x1="44.60" y1="247.20" x2="47.70" y2="247.20" stroke="#231f20" stroke-width="0.7" />
<line x1="44.60" y1="236.70" x2="47.70" y2="236.70" stroke="#231f20" stroke-width="0.7" />
<line x1="44.60" y1="226.20" x2="47.70" y2="226.20" stroke="#231f20" stroke-width="0.7" />
<line x1="44.60" y1="215.70" x2="47.70" y2="215.70" stroke="#231f20" stroke-width="0.7" />
<line x1="44.60" y1="205.20" x2="47.70" y2="205.20" stroke="#231f20" stroke-width="0.7" />
<line x1="44.60" y1="194.70" x2="47.70" y2="194.70" stroke="#231f20" stroke-width="0.7" />
<line x1="44.60" y1="184.20" x2="47.70" y2="184.20" stroke="#231f20" stroke-width="0.7" />
<line x1="44.60" y1="173.70" x2="47.70" y2="173.70" stroke="#231f20" stroke-width="0.7" />
<line x1="44.60" y1="163.20" x2="47.70" y2="163.20" stroke="#231f20" stroke-width="0.7" />
<line x1="44.60" y1="152.70" x2="47.70" y2="152.70" stroke="#231f20" stroke-width="0.7" />
<text x="41.90" y="249.70" font-size="7.6" text-anchor="end" stroke="#231f20" stroke-width="0.195" >0</text>
<text x="41.90" y="228.70" font-size="7.6" text-anchor="end" stroke="#231f20" stroke-width="0.195" >2</text>
<text x="41.90" y="207.70" font-size="7.6" text-anchor="end" stroke="#231f20" stroke-width="0.195" >4</text>
<text x="41.90" y="186.70" font-size="7.6" text-anchor="end" stroke="#231f20" stroke-width="0.195" >6</text>
<text x="41.90" y="165.70" font-size="7.6" text-anchor="end" stroke="#231f20" stroke-width="0.195" >8</text>
<text x="33.40" y="198.40" font-size="8.4" text-anchor="middle" textLength="84.00" lengthAdjust="spacingAndGlyphs" stroke="#231f20" stroke-width="0.216" transform="rotate(-90 33.40 198.40)" >Relative mRNA expression</text>
<text x="7.50" y="256.10" font-size="7" textLength="37.50" lengthAdjust="spacingAndGlyphs" stroke="#231f20" stroke-width="0.180" >Tunicamycin</text>
<line x1="81.30" y1="247.20" x2="81.30" y2="257.60" stroke="#231f20" stroke-width="1.0" />
<line x1="112.85" y1="247.20" x2="112.85" y2="257.60" stroke="#231f20" stroke-width="1.0" />
<line x1="144.40" y1="247.20" x2="144.40" y2="257.60" stroke="#231f20" stroke-width="1.3" />
<line x1="175.95" y1="247.20" x2="175.95" y2="257.60" stroke="#231f20" stroke-width="1.0" />
<line x1="207.50" y1="247.20" x2="207.50" y2="257.60" stroke="#231f20" stroke-width="1.0" />
<line x1="239.05" y1="247.20" x2="239.05" y2="257.60" stroke="#231f20" stroke-width="1.0" />
<line x1="270.60" y1="247.20" x2="270.60" y2="257.60" stroke="#231f20" stroke-width="1.0" />
<line x1="302.15" y1="247.20" x2="302.15" y2="257.60" stroke="#231f20" stroke-width="1.0" />
<line x1="333.70" y1="247.20" x2="333.70" y2="257.60" stroke="#231f20" stroke-width="1.0" />
<line x1="365.25" y1="247.20" x2="365.25" y2="257.60" stroke="#231f20" stroke-width="1.0" />
<line x1="396.80" y1="247.20" x2="396.80" y2="257.60" stroke="#231f20" stroke-width="1.0" />
<line x1="428.35" y1="247.20" x2="428.35" y2="257.60" stroke="#231f20" stroke-width="1.3" />
<line x1="459.90" y1="247.20" x2="459.90" y2="257.60" stroke="#231f20" stroke-width="1.0" />
<rect x="53.40" y="236.70" width="4.00" height="10.50" fill="#2d4a82"/>
<line x1="55.40" y1="236.70" x2="55.40" y2="234.07" stroke="#231f20" stroke-width="0.85" />
<ellipse cx="55.00" cy="239.82" rx="0.75" ry="0.65" fill="#111"/>
<ellipse cx="55.00" cy="237.61" rx="0.75" ry="0.65" fill="#111"/>
<ellipse cx="55.00" cy="236.78" rx="0.75" ry="0.65" fill="#111"/>
<ellipse cx="55.00" cy="235.05" rx="0.75" ry="0.65" fill="#111"/>
<ellipse cx="55.00" cy="244.03" rx="0.75" ry="0.65" fill="#111"/>
<rect x="58.15" y="239.01" width="4.00" height="8.19" fill="#a5002b"/>
<line x1="60.15" y1="239.01" x2="60.15" y2="236.70" stroke="#231f20" stroke-width="0.85" />
<ellipse cx="59.75" cy="243.18" rx="0.75" ry="0.65" fill="#111"/>
<ellipse cx="60.65" cy="239.61" rx="0.75" ry="0.65" fill="#111"/>
<ellipse cx="60.65" cy="238.79" rx="0.75" ry="0.65" fill="#111"/>
<ellipse cx="59.75" cy="237.56" rx="0.75" ry="0.65" fill="#111"/>
<ellipse cx="60.65" cy="244.75" rx="0.75" ry="0.65" fill="#111"/>
<rect x="69.10" y="222.00" width="4.00" height="25.20" fill="#2d4a82"/>
<line x1="71.10" y1="222.00" x2="71.10" y2="216.22" stroke="#231f20" stroke-width="0.85" />
<ellipse cx="70.70" cy="228.63" rx="0.75" ry="0.65" fill="#111"/>
<ellipse cx="71.60" cy="223.46" rx="0.75" ry="0.65" fill="#111"/>
<ellipse cx="70.70" cy="223.12" rx="0.75" ry="0.65" fill="#111"/>
<ellipse cx="70.70" cy="218.87" rx="0.75" ry="0.65" fill="#111"/>
<ellipse cx="70.70" cy="237.95" rx="0.75" ry="0.65" fill="#111"/>
<rect x="73.90" y="229.88" width="4.00" height="17.32" fill="#a5002b"/>
<line x1="75.90" y1="229.88" x2="75.90" y2="227.77" stroke="#231f20" stroke-width="0.85" />
<ellipse cx="75.50" cy="238.17" rx="0.75" ry="0.65" fill="#111"/>
<ellipse cx="75.50" cy="231.93" rx="0.75" ry="0.65" fill="#111"/>
<ellipse cx="76.40" cy="230.10" rx="0.75" ry="0.65" fill="#111"/>
<ellipse cx="75.50" cy="228.19" rx="0.75" ry="0.65" fill="#111"/>
<ellipse cx="76.40" cy="241.57" rx="0.75" ry="0.65" fill="#111"/>
<text x="57.80" y="256.30" font-size="6.6" text-anchor="middle" textLength="6.40" lengthAdjust="spacingAndGlyphs" stroke="#231f20" stroke-width="0.170" >(-)</text>
<text x="73.50" y="256.30" font-size="6.6" text-anchor="middle" textLength="8.40" lengthAdjust="spacingAndGlyphs" stroke="#231f20" stroke-width="0.170" >(+)</text>
<rect x="84.95" y="236.70" width="4.00" height="10.50" fill="#2d4a82"/>
<line x1="86.95" y1="236.70" x2="86.95" y2="232.50" stroke="#231f20" stroke-width="0.85" />
<ellipse cx="86.55" cy="240.68" rx="0.75" ry="0.65" fill="#111"/>
<ellipse cx="86.55" cy="238.12" rx="0.75" ry="0.65" fill="#111"/>
<ellipse cx="87.45" cy="236.62" rx="0.75" ry="0.65" fill="#111"/>
<ellipse cx="86.55" cy="234.17" rx="0.75" ry="0.65" fill="#111"/>
<ellipse cx="86.55" cy="243.39" rx="0.75" ry="0.65" fill="#111"/>
<rect x="89.70" y="240.90" width="4.00" height="6.30" fill="#a5002b"/>
<line x1="91.70" y1="240.90" x2="91.70" y2="235.65" stroke="#231f20" stroke-width="0.85" />
<ellipse cx="91.30" cy="243.51" rx="0.75" ry="0.65" fill="#111"/>
<ellipse cx="92.20" cy="241.63" rx="0.75" ry="0.65" fill="#111"/>
<ellipse cx="91.30" cy="240.63" rx="0.75" ry="0.65" fill="#111"/>
<ellipse cx="91.30" cy="237.05" rx="0.75" ry="0.65" fill="#111"/>
<ellipse cx="92.20" cy="245.30" rx="0.75" ry="0.65" fill="#111"/>
<rect x="100.65" y="180.00" width="4.00" height="67.20" fill="#2d4a82"/>
<line x1="102.65" y1="180.00" x2="102.65" y2="162.15" stroke="#231f20" stroke-width="0.85" />
<ellipse cx="102.25" cy="207.39" rx="0.75" ry="0.65" fill="#111"/>
<ellipse cx="102.25" cy="186.81" rx="0.75" ry="0.65" fill="#111"/>
<ellipse cx="103.15" cy="178.88" rx="0.75" ry="0.65" fill="#111"/>
<ellipse cx="103.15" cy="169.80" rx="0.75" ry="0.65" fill="#111"/>
<ellipse cx="103.15" cy="233.61" rx="0.75" ry="0.65" fill="#111"/>
<ellipse cx="102.25" cy="159.42" rx="0.75" ry="0.65" fill="#111"/>
<rect x="105.45" y="197.85" width="4.00" height="49.35" fill="#a5002b"/>
<line x1="107.45" y1="197.85" x2="107.45" y2="188.40" stroke="#231f20" stroke-width="0.85" />
<ellipse cx="107.95" cy="221.16" rx="0.75" ry="0.65" fill="#111"/>
<ellipse cx="107.95" cy="202.65" rx="0.75" ry="0.65" fill="#111"/>
<ellipse cx="107.95" cy="196.94" rx="0.75" ry="0.65" fill="#111"/>
<ellipse cx="107.05" cy="189.11" rx="0.75" ry="0.65" fill="#111"/>
<ellipse cx="107.95" cy="235.50" rx="0.75" ry="0.65" fill="#111"/>
<text x="89.35" y="256.30" font-size="6.6" text-anchor="middle" textLength="6.40" lengthAdjust="spacingAndGlyphs" stroke="#231f20" stroke-width="0.170" >(-)</text>
<text x="105.05" y="256.30" font-size="6.6" text-anchor="middle" textLength="8.40" lengthAdjust="spacingAndGlyphs" stroke="#231f20" stroke-width="0.170" >(+)</text>
<rect x="116.50" y="236.70" width="4.00" height="10.50" fill="#2d4a82"/>
<line x1="118.50" y1="236.70" x2="118.50" y2="233.55" stroke="#231f20" stroke-width="0.85" />
<ellipse cx="119.00" cy="239.62" rx="0.75" ry="0.65" fill="#111"/>
<ellipse cx="118.10" cy="237.72" rx="0.75" ry="0.65" fill="#111"/>
<ellipse cx="119.00" cy="236.42" rx="0.75" ry="0.65" fill="#111"/>
<ellipse cx="118.10" cy="233.70" rx="0.75" ry="0.65" fill="#111"/>
<ellipse cx="119.00" cy="244.55" rx="0.75" ry="0.65" fill="#111"/>
<rect x="121.25" y="236.70" width="4.00" height="10.50" fill="#a5002b"/>
<line x1="123.25" y1="236.70" x2="123.25" y2="233.55" stroke="#231f20" stroke-width="0.85" />
<ellipse cx="123.75" cy="241.96" rx="0.75" ry="0.65" fill="#111"/>
<ellipse cx="122.85" cy="237.71" rx="0.75" ry="0.65" fill="#111"/>
<ellipse cx="123.75" cy="236.56" rx="0.75" ry="0.65" fill="#111"/>
<ellipse cx="122.85" cy="234.37" rx="0.75" ry="0.65" fill="#111"/>
<ellipse cx="123.75" cy="244.65" rx="0.75" ry="0.65" fill="#111"/>
<rect x="132.20" y="215.70" width="4.00" height="31.50" fill="#2d4a82"/>
<line x1="134.20" y1="215.70" x2="134.20" y2="210.45" stroke="#231f20" stroke-width="0.85" />
<ellipse cx="134.70" cy="223.97" rx="0.75" ry="0.65" fill="#111"/>
<ellipse cx="134.70" cy="221.34" rx="0.75" ry="0.65" fill="#111"/>
<ellipse cx="134.70" cy="217.20" rx="0.75" ry="0.65" fill="#111"/>
<ellipse cx="133.80" cy="210.45" rx="0.75" ry="0.65" fill="#111"/>
<ellipse cx="133.80" cy="239.74" rx="0.75" ry="0.65" fill="#111"/>
<rect x="137.00" y="233.44" width="4.00" height="13.75" fill="#a5002b"/>
<line x1="139.00" y1="233.44" x2="139.00" y2="230.40" stroke="#231f20" stroke-width="0.85" />
<ellipse cx="138.60" cy="237.19" rx="0.75" ry="0.65" fill="#111"/>
<ellipse cx="138.60" cy="234.24" rx="0.75" ry="0.65" fill="#111"/>
<ellipse cx="139.50" cy="232.91" rx="0.75" ry="0.65" fill="#111"/>
<ellipse cx="138.60" cy="231.80" rx="0.75" ry="0.65" fill="#111"/>
<ellipse cx="138.60" cy="242.82" rx="0.75" ry="0.65" fill="#111"/>
<text x="120.90" y="256.30" font-size="6.6" text-anchor="middle" textLength="6.40" lengthAdjust="spacingAndGlyphs" stroke="#231f20" stroke-width="0.170" >(-)</text>
<text x="136.60" y="256.30" font-size="6.6" text-anchor="middle" textLength="8.40" lengthAdjust="spacingAndGlyphs" stroke="#231f20" stroke-width="0.170" >(+)</text>
<rect x="148.05" y="236.38" width="4.00" height="10.81" fill="#2d4a82"/>
<line x1="150.05" y1="236.38" x2="150.05" y2="231.97" stroke="#231f20" stroke-width="0.85" />
<ellipse cx="149.65" cy="240.58" rx="0.75" ry="0.65" fill="#111"/>
<ellipse cx="149.65" cy="238.08" rx="0.75" ry="0.65" fill="#111"/>
<ellipse cx="149.65" cy="236.89" rx="0.75" ry="0.65" fill="#111"/>
<ellipse cx="150.55" cy="232.74" rx="0.75" ry="0.65" fill="#111"/>
<ellipse cx="150.55" cy="244.58" rx="0.75" ry="0.65" fill="#111"/>
<rect x="152.80" y="242.26" width="4.00" height="4.94" fill="#a5002b"/>
<line x1="154.80" y1="242.26" x2="154.80" y2="238.80" stroke="#231f20" stroke-width="0.85" />
<ellipse cx="155.30" cy="244.96" rx="0.75" ry="0.65" fill="#111"/>
<ellipse cx="154.40" cy="243.17" rx="0.75" ry="0.65" fill="#111"/>
<ellipse cx="155.30" cy="242.32" rx="0.75" ry="0.65" fill="#111"/>
<ellipse cx="155.30" cy="239.35" rx="0.75" ry="0.65" fill="#111"/>
<ellipse cx="154.40" cy="246.08" rx="0.75" ry="0.65" fill="#111"/>
<rect x="163.75" y="213.81" width="4.00" height="33.39" fill="#2d4a82"/>
<line x1="165.75" y1="213.81" x2="165.75" y2="195.12" stroke="#231f20" stroke-width="0.85" />
<ellipse cx="165.35" cy="231.40" rx="0.75" ry="0.65" fill="#111"/>
<ellipse cx="165.35" cy="219.42" rx="0.75" ry="0.65" fill="#111"/>
<ellipse cx="166.25" cy="214.47" rx="0.75" ry="0.65" fill="#111"/>
<ellipse cx="165.35" cy="196.05" rx="0.75" ry="0.65" fill="#111"/>
<ellipse cx="165.35" cy="237.21" rx="0.75" ry="0.65" fill="#111"/>
<ellipse cx="166.25" cy="178.95" rx="0.75" ry="0.65" fill="#111"/>
<rect x="168.55" y="225.57" width="4.00" height="21.63" fill="#a5002b"/>
<line x1="170.55" y1="225.57" x2="170.55" y2="219.90" stroke="#231f20" stroke-width="0.85" />
<ellipse cx="170.15" cy="233.77" rx="0.75" ry="0.65" fill="#111"/>
<ellipse cx="170.15" cy="227.84" rx="0.75" ry="0.65" fill="#111"/>
<ellipse cx="170.15" cy="224.88" rx="0.75" ry="0.65" fill="#111"/>
<ellipse cx="170.15" cy="221.95" rx="0.75" ry="0.65" fill="#111"/>
<ellipse cx="170.15" cy="240.05" rx="0.75" ry="0.65" fill="#111"/>
<text x="152.45" y="256.30" font-size="6.6" text-anchor="middle" textLength="6.40" lengthAdjust="spacingAndGlyphs" stroke="#231f20" stroke-width="0.170" >(-)</text>
<text x="168.15" y="256.30" font-size="6.6" text-anchor="middle" textLength="8.40" lengthAdjust="spacingAndGlyphs" stroke="#231f20" stroke-width="0.170" >(+)</text>
<rect x="179.60" y="236.38" width="4.00" height="10.81" fill="#2d4a82"/>
<line x1="181.60" y1="236.38" x2="181.60" y2="235.65" stroke="#231f20" stroke-width="0.85" />
<ellipse cx="181.20" cy="240.85" rx="0.75" ry="0.65" fill="#111"/>
<ellipse cx="181.20" cy="237.12" rx="0.75" ry="0.65" fill="#111"/>
<ellipse cx="181.20" cy="236.89" rx="0.75" ry="0.65" fill="#111"/>
<ellipse cx="182.10" cy="235.91" rx="0.75" ry="0.65" fill="#111"/>
<ellipse cx="181.20" cy="242.96" rx="0.75" ry="0.65" fill="#111"/>
<rect x="184.35" y="238.91" width="4.00" height="8.29" fill="#a5002b"/>
<line x1="186.35" y1="238.91" x2="186.35" y2="237.75" stroke="#231f20" stroke-width="0.85" />
<ellipse cx="186.85" cy="242.52" rx="0.75" ry="0.65" fill="#111"/>
<ellipse cx="185.95" cy="240.28" rx="0.75" ry="0.65" fill="#111"/>
<ellipse cx="186.85" cy="239.18" rx="0.75" ry="0.65" fill="#111"/>
<ellipse cx="185.95" cy="237.80" rx="0.75" ry="0.65" fill="#111"/>
<ellipse cx="186.85" cy="244.58" rx="0.75" ry="0.65" fill="#111"/>
<rect x="195.30" y="220.63" width="4.00" height="26.56" fill="#2d4a82"/>
<line x1="197.30" y1="220.63" x2="197.30" y2="214.65" stroke="#231f20" stroke-width="0.85" />
<ellipse cx="197.80" cy="230.15" rx="0.75" ry="0.65" fill="#111"/>
<ellipse cx="196.90" cy="225.85" rx="0.75" ry="0.65" fill="#111"/>
<ellipse cx="197.80" cy="221.23" rx="0.75" ry="0.65" fill="#111"/>
<ellipse cx="196.90" cy="216.97" rx="0.75" ry="0.65" fill="#111"/>
<ellipse cx="196.90" cy="237.97" rx="0.75" ry="0.65" fill="#111"/>
<rect x="200.10" y="226.51" width="4.00" height="20.69" fill="#a5002b"/>
<line x1="202.10" y1="226.51" x2="202.10" y2="223.05" stroke="#231f20" stroke-width="0.85" />
<ellipse cx="201.70" cy="237.65" rx="0.75" ry="0.65" fill="#111"/>
<ellipse cx="201.70" cy="228.49" rx="0.75" ry="0.65" fill="#111"/>
<ellipse cx="202.60" cy="227.25" rx="0.75" ry="0.65" fill="#111"/>
<ellipse cx="202.60" cy="223.98" rx="0.75" ry="0.65" fill="#111"/>
<ellipse cx="201.70" cy="240.28" rx="0.75" ry="0.65" fill="#111"/>
<text x="184.00" y="256.30" font-size="6.6" text-anchor="middle" textLength="6.40" lengthAdjust="spacingAndGlyphs" stroke="#231f20" stroke-width="0.170" >(-)</text>
<text x="199.70" y="256.30" font-size="6.6" text-anchor="middle" textLength="8.40" lengthAdjust="spacingAndGlyphs" stroke="#231f20" stroke-width="0.170" >(+)</text>
<rect x="211.15" y="236.38" width="4.00" height="10.81" fill="#2d4a82"/>
<line x1="213.15" y1="236.38" x2="213.15" y2="231.97" stroke="#231f20" stroke-width="0.85" />
<ellipse cx="212.75" cy="240.72" rx="0.75" ry="0.65" fill="#111"/>
<ellipse cx="212.75" cy="238.12" rx="0.75" ry="0.65" fill="#111"/>
<ellipse cx="213.65" cy="236.24" rx="0.75" ry="0.65" fill="#111"/>
<ellipse cx="213.65" cy="233.65" rx="0.75" ry="0.65" fill="#111"/>
<ellipse cx="212.75" cy="244.01" rx="0.75" ry="0.65" fill="#111"/>
<rect x="215.90" y="237.33" width="4.00" height="9.87" fill="#a5002b"/>
<line x1="217.90" y1="237.33" x2="217.90" y2="234.60" stroke="#231f20" stroke-width="0.85" />
<ellipse cx="218.40" cy="242.04" rx="0.75" ry="0.65" fill="#111"/>
<ellipse cx="218.40" cy="238.56" rx="0.75" ry="0.65" fill="#111"/>
<ellipse cx="217.50" cy="237.66" rx="0.75" ry="0.65" fill="#111"/>
<ellipse cx="217.50" cy="234.84" rx="0.75" ry="0.65" fill="#111"/>
<ellipse cx="218.40" cy="244.77" rx="0.75" ry="0.65" fill="#111"/>
<rect x="226.85" y="223.26" width="4.00" height="23.94" fill="#2d4a82"/>
<line x1="228.85" y1="223.26" x2="228.85" y2="217.80" stroke="#231f20" stroke-width="0.85" />
<ellipse cx="229.35" cy="229.40" rx="0.75" ry="0.65" fill="#111"/>
<ellipse cx="228.45" cy="227.85" rx="0.75" ry="0.65" fill="#111"/>
<ellipse cx="228.45" cy="222.72" rx="0.75" ry="0.65" fill="#111"/>
<ellipse cx="228.45" cy="219.21" rx="0.75" ry="0.65" fill="#111"/>
<ellipse cx="228.45" cy="237.90" rx="0.75" ry="0.65" fill="#111"/>
<rect x="231.65" y="235.75" width="4.00" height="11.44" fill="#a5002b"/>
<line x1="233.65" y1="235.75" x2="233.65" y2="227.25" stroke="#231f20" stroke-width="0.85" />
<ellipse cx="233.25" cy="239.93" rx="0.75" ry="0.65" fill="#111"/>
<ellipse cx="234.15" cy="236.52" rx="0.75" ry="0.65" fill="#111"/>
<ellipse cx="234.15" cy="235.80" rx="0.75" ry="0.65" fill="#111"/>
<ellipse cx="233.25" cy="228.48" rx="0.75" ry="0.65" fill="#111"/>
<ellipse cx="233.25" cy="242.77" rx="0.75" ry="0.65" fill="#111"/>
<text x="215.55" y="256.30" font-size="6.6" text-anchor="middle" textLength="6.40" lengthAdjust="spacingAndGlyphs" stroke="#231f20" stroke-width="0.170" >(-)</text>
<text x="231.25" y="256.30" font-size="6.6" text-anchor="middle" textLength="8.40" lengthAdjust="spacingAndGlyphs" stroke="#231f20" stroke-width="0.170" >(+)</text>
<rect x="242.70" y="236.38" width="4.00" height="10.81" fill="#2d4a82"/>
<line x1="244.70" y1="236.38" x2="244.70" y2="233.55" stroke="#231f20" stroke-width="0.85" />
<ellipse cx="245.20" cy="241.33" rx="0.75" ry="0.65" fill="#111"/>
<ellipse cx="244.30" cy="237.61" rx="0.75" ry="0.65" fill="#111"/>
<ellipse cx="245.20" cy="236.64" rx="0.75" ry="0.65" fill="#111"/>
<ellipse cx="244.30" cy="233.82" rx="0.75" ry="0.65" fill="#111"/>
<ellipse cx="244.30" cy="244.03" rx="0.75" ry="0.65" fill="#111"/>
<rect x="247.45" y="238.91" width="4.00" height="8.29" fill="#a5002b"/>
<line x1="249.45" y1="238.91" x2="249.45" y2="235.12" stroke="#231f20" stroke-width="0.85" />
<ellipse cx="249.95" cy="242.24" rx="0.75" ry="0.65" fill="#111"/>
<ellipse cx="249.05" cy="239.87" rx="0.75" ry="0.65" fill="#111"/>
<ellipse cx="249.95" cy="238.65" rx="0.75" ry="0.65" fill="#111"/>
<ellipse cx="249.95" cy="236.41" rx="0.75" ry="0.65" fill="#111"/>
<ellipse cx="249.95" cy="245.01" rx="0.75" ry="0.65" fill="#111"/>
<rect x="258.40" y="214.75" width="4.00" height="32.44" fill="#2d4a82"/>
<line x1="260.40" y1="214.75" x2="260.40" y2="210.45" stroke="#231f20" stroke-width="0.85" />
<ellipse cx="260.90" cy="223.57" rx="0.75" ry="0.65" fill="#111"/>
<ellipse cx="260.90" cy="220.40" rx="0.75" ry="0.65" fill="#111"/>
<ellipse cx="260.00" cy="213.23" rx="0.75" ry="0.65" fill="#111"/>
<ellipse cx="260.90" cy="212.09" rx="0.75" ry="0.65" fill="#111"/>
<ellipse cx="260.00" cy="237.70" rx="0.75" ry="0.65" fill="#111"/>
<ellipse cx="260.00" cy="210.45" rx="0.75" ry="0.65" fill="#111"/>
<rect x="263.20" y="220.63" width="4.00" height="26.56" fill="#a5002b"/>
<line x1="265.20" y1="220.63" x2="265.20" y2="217.27" stroke="#231f20" stroke-width="0.85" />
<ellipse cx="264.80" cy="231.70" rx="0.75" ry="0.65" fill="#111"/>
<ellipse cx="264.80" cy="224.78" rx="0.75" ry="0.65" fill="#111"/>
<ellipse cx="264.80" cy="219.55" rx="0.75" ry="0.65" fill="#111"/>
<ellipse cx="265.70" cy="218.14" rx="0.75" ry="0.65" fill="#111"/>
<ellipse cx="265.70" cy="241.42" rx="0.75" ry="0.65" fill="#111"/>
<text x="247.10" y="256.30" font-size="6.6" text-anchor="middle" textLength="6.40" lengthAdjust="spacingAndGlyphs" stroke="#231f20" stroke-width="0.170" >(-)</text>
<text x="262.80" y="256.30" font-size="6.6" text-anchor="middle" textLength="8.40" lengthAdjust="spacingAndGlyphs" stroke="#231f20" stroke-width="0.170" >(+)</text>
<rect x="274.25" y="236.38" width="4.00" height="10.81" fill="#2d4a82"/>
<line x1="276.25" y1="236.38" x2="276.25" y2="233.55" stroke="#231f20" stroke-width="0.85" />
<ellipse cx="276.75" cy="239.38" rx="0.75" ry="0.65" fill="#111"/>
<ellipse cx="275.85" cy="238.07" rx="0.75" ry="0.65" fill="#111"/>
<ellipse cx="276.75" cy="236.43" rx="0.75" ry="0.65" fill="#111"/>
<ellipse cx="275.85" cy="234.77" rx="0.75" ry="0.65" fill="#111"/>
<ellipse cx="275.85" cy="242.88" rx="0.75" ry="0.65" fill="#111"/>
<rect x="279.00" y="237.75" width="4.00" height="9.45" fill="#a5002b"/>
<line x1="281.00" y1="237.75" x2="281.00" y2="235.12" stroke="#231f20" stroke-width="0.85" />
<ellipse cx="281.50" cy="242.03" rx="0.75" ry="0.65" fill="#111"/>
<ellipse cx="281.50" cy="238.76" rx="0.75" ry="0.65" fill="#111"/>
<ellipse cx="281.50" cy="238.21" rx="0.75" ry="0.65" fill="#111"/>
<ellipse cx="280.60" cy="235.15" rx="0.75" ry="0.65" fill="#111"/>
<ellipse cx="280.60" cy="243.76" rx="0.75" ry="0.65" fill="#111"/>
<rect x="289.95" y="217.06" width="4.00" height="30.13" fill="#2d4a82"/>
<line x1="291.95" y1="217.06" x2="291.95" y2="209.40" stroke="#231f20" stroke-width="0.85" />
<ellipse cx="292.45" cy="232.98" rx="0.75" ry="0.65" fill="#111"/>
<ellipse cx="292.45" cy="220.41" rx="0.75" ry="0.65" fill="#111"/>
<ellipse cx="292.45" cy="215.59" rx="0.75" ry="0.65" fill="#111"/>
<ellipse cx="292.45" cy="211.91" rx="0.75" ry="0.65" fill="#111"/>
<ellipse cx="291.55" cy="237.89" rx="0.75" ry="0.65" fill="#111"/>
<ellipse cx="291.55" cy="202.05" rx="0.75" ry="0.65" fill="#111"/>
<rect x="294.75" y="222.00" width="4.00" height="25.20" fill="#a5002b"/>
<line x1="296.75" y1="222.00" x2="296.75" y2="217.80" stroke="#231f20" stroke-width="0.85" />
<ellipse cx="296.35" cy="233.74" rx="0.75" ry="0.65" fill="#111"/>
<ellipse cx="296.35" cy="225.14" rx="0.75" ry="0.65" fill="#111"/>
<ellipse cx="296.35" cy="221.84" rx="0.75" ry="0.65" fill="#111"/>
<ellipse cx="296.35" cy="218.93" rx="0.75" ry="0.65" fill="#111"/>
<ellipse cx="297.25" cy="239.20" rx="0.75" ry="0.65" fill="#111"/>
<text x="278.65" y="256.30" font-size="6.6" text-anchor="middle" textLength="6.40" lengthAdjust="spacingAndGlyphs" stroke="#231f20" stroke-width="0.170" >(-)</text>
<text x="294.35" y="256.30" font-size="6.6" text-anchor="middle" textLength="8.40" lengthAdjust="spacingAndGlyphs" stroke="#231f20" stroke-width="0.170" >(+)</text>
<rect x="305.80" y="236.38" width="4.00" height="10.81" fill="#2d4a82"/>
<line x1="307.80" y1="236.38" x2="307.80" y2="231.97" stroke="#231f20" stroke-width="0.85" />
<ellipse cx="308.30" cy="241.45" rx="0.75" ry="0.65" fill="#111"/>
<ellipse cx="307.40" cy="237.67" rx="0.75" ry="0.65" fill="#111"/>
<ellipse cx="308.30" cy="236.16" rx="0.75" ry="0.65" fill="#111"/>
<ellipse cx="307.40" cy="232.07" rx="0.75" ry="0.65" fill="#111"/>
<ellipse cx="308.30" cy="244.24" rx="0.75" ry="0.65" fill="#111"/>
<rect x="310.55" y="240.90" width="4.00" height="6.30" fill="#a5002b"/>
<line x1="312.55" y1="240.90" x2="312.55" y2="238.27" stroke="#231f20" stroke-width="0.85" />
<ellipse cx="312.15" cy="243.41" rx="0.75" ry="0.65" fill="#111"/>
<ellipse cx="313.05" cy="241.73" rx="0.75" ry="0.65" fill="#111"/>
<ellipse cx="312.15" cy="240.86" rx="0.75" ry="0.65" fill="#111"/>
<ellipse cx="313.05" cy="239.08" rx="0.75" ry="0.65" fill="#111"/>
<ellipse cx="313.05" cy="244.89" rx="0.75" ry="0.65" fill="#111"/>
<rect x="321.50" y="222.00" width="4.00" height="25.20" fill="#2d4a82"/>
<line x1="323.50" y1="222.00" x2="323.50" y2="209.82" stroke="#231f20" stroke-width="0.85" />
<ellipse cx="323.10" cy="234.77" rx="0.75" ry="0.65" fill="#111"/>
<ellipse cx="323.10" cy="225.19" rx="0.75" ry="0.65" fill="#111"/>
<ellipse cx="323.10" cy="221.99" rx="0.75" ry="0.65" fill="#111"/>
<ellipse cx="323.10" cy="210.01" rx="0.75" ry="0.65" fill="#111"/>
<ellipse cx="323.10" cy="238.07" rx="0.75" ry="0.65" fill="#111"/>
<ellipse cx="324.00" cy="199.95" rx="0.75" ry="0.65" fill="#111"/>
<rect x="326.30" y="231.45" width="4.00" height="15.75" fill="#a5002b"/>
<line x1="328.30" y1="231.45" x2="328.30" y2="227.25" stroke="#231f20" stroke-width="0.85" />
<ellipse cx="327.90" cy="237.77" rx="0.75" ry="0.65" fill="#111"/>
<ellipse cx="328.80" cy="232.58" rx="0.75" ry="0.65" fill="#111"/>
<ellipse cx="327.90" cy="232.10" rx="0.75" ry="0.65" fill="#111"/>
<ellipse cx="327.90" cy="228.56" rx="0.75" ry="0.65" fill="#111"/>
<ellipse cx="327.90" cy="243.90" rx="0.75" ry="0.65" fill="#111"/>
<text x="310.20" y="256.30" font-size="6.6" text-anchor="middle" textLength="6.40" lengthAdjust="spacingAndGlyphs" stroke="#231f20" stroke-width="0.170" >(-)</text>
<text x="325.90" y="256.30" font-size="6.6" text-anchor="middle" textLength="8.40" lengthAdjust="spacingAndGlyphs" stroke="#231f20" stroke-width="0.170" >(+)</text>
<rect x="337.35" y="236.80" width="4.00" height="10.40" fill="#2d4a82"/>
<line x1="339.35" y1="236.80" x2="339.35" y2="234.07" stroke="#231f20" stroke-width="0.85" />
<ellipse cx="339.85" cy="241.89" rx="0.75" ry="0.65" fill="#111"/>
<ellipse cx="339.85" cy="238.74" rx="0.75" ry="0.65" fill="#111"/>
<ellipse cx="339.85" cy="236.64" rx="0.75" ry="0.65" fill="#111"/>
<ellipse cx="338.95" cy="234.64" rx="0.75" ry="0.65" fill="#111"/>
<ellipse cx="338.95" cy="243.80" rx="0.75" ry="0.65" fill="#111"/>
<rect x="342.10" y="239.95" width="4.00" height="7.25" fill="#a5002b"/>
<line x1="344.10" y1="239.95" x2="344.10" y2="237.75" stroke="#231f20" stroke-width="0.85" />
<ellipse cx="343.70" cy="243.76" rx="0.75" ry="0.65" fill="#111"/>
<ellipse cx="344.60" cy="241.22" rx="0.75" ry="0.65" fill="#111"/>
<ellipse cx="343.70" cy="239.82" rx="0.75" ry="0.65" fill="#111"/>
<ellipse cx="344.60" cy="238.67" rx="0.75" ry="0.65" fill="#111"/>
<ellipse cx="344.60" cy="244.38" rx="0.75" ry="0.65" fill="#111"/>
<rect x="353.05" y="230.92" width="4.00" height="16.28" fill="#2d4a82"/>
<line x1="355.05" y1="230.92" x2="355.05" y2="225.15" stroke="#231f20" stroke-width="0.85" />
<ellipse cx="354.65" cy="237.82" rx="0.75" ry="0.65" fill="#111"/>
<ellipse cx="355.55" cy="232.80" rx="0.75" ry="0.65" fill="#111"/>
<ellipse cx="354.65" cy="230.83" rx="0.75" ry="0.65" fill="#111"/>
<ellipse cx="355.55" cy="226.34" rx="0.75" ry="0.65" fill="#111"/>
<ellipse cx="355.55" cy="241.34" rx="0.75" ry="0.65" fill="#111"/>
<ellipse cx="355.55" cy="209.40" rx="0.75" ry="0.65" fill="#111"/>
<rect x="357.85" y="234.39" width="4.00" height="12.81" fill="#a5002b"/>
<line x1="359.85" y1="234.39" x2="359.85" y2="230.40" stroke="#231f20" stroke-width="0.85" />
<ellipse cx="359.45" cy="237.93" rx="0.75" ry="0.65" fill="#111"/>
<ellipse cx="360.35" cy="236.00" rx="0.75" ry="0.65" fill="#111"/>
<ellipse cx="359.45" cy="234.31" rx="0.75" ry="0.65" fill="#111"/>
<ellipse cx="359.45" cy="231.69" rx="0.75" ry="0.65" fill="#111"/>
<ellipse cx="360.35" cy="244.35" rx="0.75" ry="0.65" fill="#111"/>
<text x="341.75" y="256.30" font-size="6.6" text-anchor="middle" textLength="6.40" lengthAdjust="spacingAndGlyphs" stroke="#231f20" stroke-width="0.170" >(-)</text>
<text x="357.45" y="256.30" font-size="6.6" text-anchor="middle" textLength="8.40" lengthAdjust="spacingAndGlyphs" stroke="#231f20" stroke-width="0.170" >(+)</text>
<rect x="368.90" y="236.80" width="4.00" height="10.40" fill="#2d4a82"/>
<line x1="370.90" y1="236.80" x2="370.90" y2="232.50" stroke="#231f20" stroke-width="0.85" />
<ellipse cx="371.40" cy="242.07" rx="0.75" ry="0.65" fill="#111"/>
<ellipse cx="370.50" cy="238.17" rx="0.75" ry="0.65" fill="#111"/>
<ellipse cx="371.40" cy="236.52" rx="0.75" ry="0.65" fill="#111"/>
<ellipse cx="371.40" cy="233.13" rx="0.75" ry="0.65" fill="#111"/>
<ellipse cx="370.50" cy="243.60" rx="0.75" ry="0.65" fill="#111"/>
<rect x="373.65" y="239.74" width="4.00" height="7.46" fill="#a5002b"/>
<line x1="375.65" y1="239.74" x2="375.65" y2="236.17" stroke="#231f20" stroke-width="0.85" />
<ellipse cx="376.15" cy="242.55" rx="0.75" ry="0.65" fill="#111"/>
<ellipse cx="375.25" cy="241.02" rx="0.75" ry="0.65" fill="#111"/>
<ellipse cx="376.15" cy="239.40" rx="0.75" ry="0.65" fill="#111"/>
<ellipse cx="376.15" cy="236.31" rx="0.75" ry="0.65" fill="#111"/>
<ellipse cx="376.15" cy="245.01" rx="0.75" ry="0.65" fill="#111"/>
<rect x="384.60" y="226.94" width="4.00" height="20.26" fill="#2d4a82"/>
<line x1="386.60" y1="226.94" x2="386.60" y2="218.85" stroke="#231f20" stroke-width="0.85" />
<ellipse cx="386.20" cy="237.18" rx="0.75" ry="0.65" fill="#111"/>
<ellipse cx="386.20" cy="229.12" rx="0.75" ry="0.65" fill="#111"/>
<ellipse cx="387.10" cy="227.60" rx="0.75" ry="0.65" fill="#111"/>
<ellipse cx="386.20" cy="220.01" rx="0.75" ry="0.65" fill="#111"/>
<ellipse cx="386.20" cy="240.68" rx="0.75" ry="0.65" fill="#111"/>
<rect x="389.40" y="231.45" width="4.00" height="15.75" fill="#a5002b"/>
<line x1="391.40" y1="231.45" x2="391.40" y2="227.77" stroke="#231f20" stroke-width="0.85" />
<ellipse cx="391.90" cy="235.49" rx="0.75" ry="0.65" fill="#111"/>
<ellipse cx="391.90" cy="233.52" rx="0.75" ry="0.65" fill="#111"/>
<ellipse cx="391.00" cy="231.11" rx="0.75" ry="0.65" fill="#111"/>
<ellipse cx="391.00" cy="228.26" rx="0.75" ry="0.65" fill="#111"/>
<ellipse cx="391.00" cy="243.37" rx="0.75" ry="0.65" fill="#111"/>
<text x="373.30" y="256.30" font-size="6.6" text-anchor="middle" textLength="6.40" lengthAdjust="spacingAndGlyphs" stroke="#231f20" stroke-width="0.170" >(-)</text>
<text x="389.00" y="256.30" font-size="6.6" text-anchor="middle" textLength="8.40" lengthAdjust="spacingAndGlyphs" stroke="#231f20" stroke-width="0.170" >(+)</text>
<rect x="400.45" y="236.80" width="4.00" height="10.40" fill="#2d4a82"/>
<line x1="402.45" y1="236.80" x2="402.45" y2="234.60" stroke="#231f20" stroke-width="0.85" />
<ellipse cx="402.95" cy="239.61" rx="0.75" ry="0.65" fill="#111"/>
<ellipse cx="402.95" cy="238.28" rx="0.75" ry="0.65" fill="#111"/>
<ellipse cx="402.95" cy="236.47" rx="0.75" ry="0.65" fill="#111"/>
<ellipse cx="402.95" cy="235.43" rx="0.75" ry="0.65" fill="#111"/>
<ellipse cx="402.05" cy="244.12" rx="0.75" ry="0.65" fill="#111"/>
<rect x="405.20" y="239.95" width="4.00" height="7.25" fill="#a5002b"/>
<line x1="407.20" y1="239.95" x2="407.20" y2="237.75" stroke="#231f20" stroke-width="0.85" />
<ellipse cx="407.70" cy="242.14" rx="0.75" ry="0.65" fill="#111"/>
<ellipse cx="406.80" cy="241.17" rx="0.75" ry="0.65" fill="#111"/>
<ellipse cx="407.70" cy="239.63" rx="0.75" ry="0.65" fill="#111"/>
<ellipse cx="407.70" cy="238.31" rx="0.75" ry="0.65" fill="#111"/>
<ellipse cx="407.70" cy="245.17" rx="0.75" ry="0.65" fill="#111"/>
<rect x="416.15" y="221.26" width="4.00" height="25.94" fill="#2d4a82"/>
<line x1="418.15" y1="221.26" x2="418.15" y2="210.45" stroke="#231f20" stroke-width="0.85" />
<ellipse cx="417.75" cy="231.78" rx="0.75" ry="0.65" fill="#111"/>
<ellipse cx="418.65" cy="223.86" rx="0.75" ry="0.65" fill="#111"/>
<ellipse cx="418.65" cy="220.95" rx="0.75" ry="0.65" fill="#111"/>
<ellipse cx="418.65" cy="212.08" rx="0.75" ry="0.65" fill="#111"/>
<ellipse cx="417.75" cy="237.33" rx="0.75" ry="0.65" fill="#111"/>
<ellipse cx="417.75" cy="207.30" rx="0.75" ry="0.65" fill="#111"/>
<ellipse cx="418.65" cy="196.80" rx="0.75" ry="0.65" fill="#111"/>
<rect x="420.95" y="233.23" width="4.00" height="13.97" fill="#a5002b"/>
<line x1="422.95" y1="233.23" x2="422.95" y2="228.82" stroke="#231f20" stroke-width="0.85" />
<ellipse cx="422.55" cy="240.79" rx="0.75" ry="0.65" fill="#111"/>
<ellipse cx="422.55" cy="234.21" rx="0.75" ry="0.65" fill="#111"/>
<ellipse cx="423.45" cy="232.92" rx="0.75" ry="0.65" fill="#111"/>
<ellipse cx="422.55" cy="230.99" rx="0.75" ry="0.65" fill="#111"/>
<ellipse cx="422.55" cy="242.87" rx="0.75" ry="0.65" fill="#111"/>
<text x="404.85" y="256.30" font-size="6.6" text-anchor="middle" textLength="6.40" lengthAdjust="spacingAndGlyphs" stroke="#231f20" stroke-width="0.170" >(-)</text>
<text x="420.55" y="256.30" font-size="6.6" text-anchor="middle" textLength="8.40" lengthAdjust="spacingAndGlyphs" stroke="#231f20" stroke-width="0.170" >(+)</text>
<rect x="432.00" y="236.70" width="4.00" height="10.50" fill="#2d4a82"/>
<line x1="434.00" y1="236.70" x2="434.00" y2="233.55" stroke="#231f20" stroke-width="0.85" />
<ellipse cx="433.60" cy="240.85" rx="0.75" ry="0.65" fill="#111"/>
<ellipse cx="434.50" cy="238.50" rx="0.75" ry="0.65" fill="#111"/>
<ellipse cx="434.50" cy="236.22" rx="0.75" ry="0.65" fill="#111"/>
<ellipse cx="433.60" cy="234.12" rx="0.75" ry="0.65" fill="#111"/>
<ellipse cx="433.60" cy="243.86" rx="0.75" ry="0.65" fill="#111"/>
<rect x="436.75" y="237.33" width="4.00" height="9.87" fill="#a5002b"/>
<line x1="438.75" y1="237.33" x2="438.75" y2="236.17" stroke="#231f20" stroke-width="0.85" />
<ellipse cx="439.25" cy="242.50" rx="0.75" ry="0.65" fill="#111"/>
<ellipse cx="439.25" cy="238.44" rx="0.75" ry="0.65" fill="#111"/>
<ellipse cx="438.35" cy="237.43" rx="0.75" ry="0.65" fill="#111"/>
<ellipse cx="439.25" cy="236.22" rx="0.75" ry="0.65" fill="#111"/>
<ellipse cx="438.35" cy="244.01" rx="0.75" ry="0.65" fill="#111"/>
<rect x="447.70" y="223.26" width="4.00" height="23.94" fill="#2d4a82"/>
<line x1="449.70" y1="223.26" x2="449.70" y2="217.27" stroke="#231f20" stroke-width="0.85" />
<ellipse cx="450.20" cy="232.76" rx="0.75" ry="0.65" fill="#111"/>
<ellipse cx="449.30" cy="225.90" rx="0.75" ry="0.65" fill="#111"/>
<ellipse cx="450.20" cy="223.73" rx="0.75" ry="0.65" fill="#111"/>
<ellipse cx="450.20" cy="217.48" rx="0.75" ry="0.65" fill="#111"/>
<ellipse cx="450.20" cy="238.92" rx="0.75" ry="0.65" fill="#111"/>
<rect x="452.50" y="230.08" width="4.00" height="17.12" fill="#a5002b"/>
<line x1="454.50" y1="230.08" x2="454.50" y2="228.30" stroke="#231f20" stroke-width="0.85" />
<ellipse cx="455.00" cy="239.23" rx="0.75" ry="0.65" fill="#111"/>
<ellipse cx="455.00" cy="233.28" rx="0.75" ry="0.65" fill="#111"/>
<ellipse cx="455.00" cy="230.24" rx="0.75" ry="0.65" fill="#111"/>
<ellipse cx="454.10" cy="229.10" rx="0.75" ry="0.65" fill="#111"/>
<ellipse cx="454.10" cy="240.69" rx="0.75" ry="0.65" fill="#111"/>
<text x="436.40" y="256.30" font-size="6.6" text-anchor="middle" textLength="6.40" lengthAdjust="spacingAndGlyphs" stroke="#231f20" stroke-width="0.170" >(-)</text>
<text x="452.10" y="256.30" font-size="6.6" text-anchor="middle" textLength="8.40" lengthAdjust="spacingAndGlyphs" stroke="#231f20" stroke-width="0.170" >(+)</text>
<path d="M71.00,208.65 L71.00,206.45 L75.80,206.45 L75.80,208.65" stroke="#111" stroke-width="0.95" fill="none" stroke-linejoin="round" stroke-linecap="square"/>
<ellipse cx="72.10" cy="203.60" rx="0.8" ry="0.55" fill="#222"/>
<ellipse cx="74.70" cy="203.60" rx="0.8" ry="0.55" fill="#222"/>
<path d="M102.55,152.55 L102.55,150.35 L107.35,150.35 L107.35,152.55" stroke="#111" stroke-width="0.95" fill="none" stroke-linejoin="round" stroke-linecap="square"/>
<ellipse cx="104.95" cy="147.50" rx="0.8" ry="0.55" fill="#222"/>
<path d="M134.10,202.35 L134.10,200.15 L138.90,200.15 L138.90,202.35" stroke="#111" stroke-width="0.95" fill="none" stroke-linejoin="round" stroke-linecap="square"/>
<ellipse cx="135.20" cy="197.30" rx="0.8" ry="0.55" fill="#222"/>
<ellipse cx="137.80" cy="197.30" rx="0.8" ry="0.55" fill="#222"/>
<path d="M149.85,224.65 L149.85,222.45 L154.65,222.45 L154.65,224.65" stroke="#111" stroke-width="0.95" fill="none" stroke-linejoin="round" stroke-linecap="square"/>
<ellipse cx="152.25" cy="219.60" rx="0.8" ry="0.55" fill="#222"/>
<path d="M228.75,202.25 L228.75,200.05 L233.55,200.05 L233.55,202.25" stroke="#111" stroke-width="0.95" fill="none" stroke-linejoin="round" stroke-linecap="square"/>
<ellipse cx="231.15" cy="197.20" rx="0.8" ry="0.55" fill="#222"/>
<path d="M260.30,202.25 L260.30,200.05 L265.10,200.05 L265.10,202.25" stroke="#111" stroke-width="0.95" fill="none" stroke-linejoin="round" stroke-linecap="square"/>
<ellipse cx="262.70" cy="197.20" rx="0.8" ry="0.55" fill="#222"/>
<path d="M307.60,222.55 L307.60,220.35 L312.40,220.35 L312.40,222.55" stroke="#111" stroke-width="0.95" fill="none" stroke-linejoin="round" stroke-linecap="square"/>
<ellipse cx="310.00" cy="217.50" rx="0.8" ry="0.55" fill="#222"/>
<path d="M418.05,192.35 L418.05,190.15 L422.85,190.15 L422.85,192.35" stroke="#111" stroke-width="0.95" fill="none" stroke-linejoin="round" stroke-linecap="square"/>
<ellipse cx="420.45" cy="187.30" rx="0.8" ry="0.55" fill="#222"/>
<path d="M449.60,208.45 L449.60,206.25 L454.40,206.25 L454.40,208.45" stroke="#111" stroke-width="0.95" fill="none" stroke-linejoin="round" stroke-linecap="square"/>
<ellipse cx="452.00" cy="203.40" rx="0.8" ry="0.55" fill="#222"/>
<text x="65.65" y="267.20" font-size="7" text-anchor="middle" font-style="italic" stroke="#231f20" stroke-width="0.180" >Atf4</text>
<text x="97.20" y="267.20" font-size="7" text-anchor="middle" font-style="italic" stroke="#231f20" stroke-width="0.180" >Ddit3</text>
<text x="97.20" y="275.50" font-size="7" text-anchor="middle" font-style="italic" stroke="#231f20" stroke-width="0.180" >=Chop</text>
<text x="128.75" y="267.20" font-size="7" text-anchor="middle" font-style="italic" stroke="#231f20" stroke-width="0.180" >Ppp1r15a</text>
<text x="128.75" y="275.50" font-size="7" text-anchor="middle" font-style="italic" stroke="#231f20" stroke-width="0.180" >=Gadd34</text>
<text x="160.30" y="267.20" font-size="7" text-anchor="middle" font-style="italic" stroke="#231f20" stroke-width="0.180" >Dnajb9</text>
<text x="160.30" y="275.50" font-size="7" text-anchor="middle" font-style="italic" stroke="#231f20" stroke-width="0.180" >=Erdj4</text>
<text x="191.85" y="267.20" font-size="7" text-anchor="middle" font-style="italic" stroke="#231f20" stroke-width="0.180" >Dnajc3</text>
<text x="191.85" y="275.50" font-size="7" text-anchor="middle" font-style="italic" stroke="#231f20" stroke-width="0.180" >=Erdj6</text>
<text x="223.40" y="267.20" font-size="7" text-anchor="middle" font-style="italic" stroke="#231f20" stroke-width="0.180" >Atf6</text>
<text x="254.95" y="267.20" font-size="7" text-anchor="middle" font-style="italic" stroke="#231f20" stroke-width="0.180" >Hspa5</text>
<text x="254.95" y="275.50" font-size="7" text-anchor="middle" font-style="italic" stroke="#231f20" stroke-width="0.180" >=Bip</text>
<text x="254.95" y="283.80" font-size="7" text-anchor="middle" font-style="italic" stroke="#231f20" stroke-width="0.180" >=Grp78</text>
<text x="286.50" y="267.20" font-size="7" text-anchor="middle" font-style="italic" stroke="#231f20" stroke-width="0.180" >Hsp90b1</text>
<text x="286.50" y="275.50" font-size="7" text-anchor="middle" font-style="italic" stroke="#231f20" stroke-width="0.180" >=Grp94</text>
<text x="318.05" y="267.20" font-size="7" text-anchor="middle" font-style="italic" stroke="#231f20" stroke-width="0.180" >Ern1</text>
<text x="318.05" y="275.50" font-size="7" text-anchor="middle" font-style="italic" stroke="#231f20" stroke-width="0.180" >=Ire1</text>
<text x="349.60" y="267.20" font-size="7" text-anchor="middle" font-style="italic" stroke="#231f20" stroke-width="0.180" >Xbp1</text>
<text x="349.60" y="275.50" font-size="7" text-anchor="middle" font-style="italic" stroke="#231f20" stroke-width="0.180" >total</text>
<text x="381.15" y="267.20" font-size="7" text-anchor="middle" font-style="italic" stroke="#231f20" stroke-width="0.180" >Xbp1</text>
<text x="381.15" y="275.50" font-size="7" text-anchor="middle" font-style="italic" stroke="#231f20" stroke-width="0.180" >spliced</text>
<text x="412.70" y="267.20" font-size="7" text-anchor="middle" font-style="italic" stroke="#231f20" stroke-width="0.180" >Edem1</text>
<text x="444.25" y="267.20" font-size="7" text-anchor="middle" font-style="italic" stroke="#231f20" stroke-width="0.180" >Sec61a1</text>
<rect x="311.00" y="163.00" width="24.00" height="6.20" fill="#2d4a82"/>
<rect x="311.00" y="172.30" width="24.00" height="6.20" fill="#a5002b"/>
<text x="338.00" y="167.80" font-size="6.6" textLength="15.60" lengthAdjust="spacingAndGlyphs" font-style="italic" stroke="#231f20" stroke-width="0.170" >Runx1</text>
<text x="354.60" y="164.40" font-size="4.8" textLength="6.90" lengthAdjust="spacingAndGlyphs" stroke="#231f20" stroke-width="0.123" >+/+</text>
<text x="338.00" y="177.10" font-size="6.6" textLength="15.60" lengthAdjust="spacingAndGlyphs" font-style="italic" stroke="#231f20" stroke-width="0.170" >Runx1</text>
<text x="354.60" y="173.60" font-size="4.8" textLength="32.40" lengthAdjust="spacingAndGlyphs" stroke="#231f20" stroke-width="0.123" >KTAMK/KTAMK</text>
<text x="414.60" y="166.50" font-size="6.0" textLength="28.40" lengthAdjust="spacingAndGlyphs" stroke="#231f20" stroke-width="0.154" >* : p &lt; 0.05</text>
<text x="414.60" y="175.10" font-size="6.0" textLength="28.80" lengthAdjust="spacingAndGlyphs" stroke="#231f20" stroke-width="0.154" >**: p &lt; 0.01</text>
<rect x="48.00" y="305.00" width="24.00" height="6.30" fill="#2d4a82"/>
<rect x="48.00" y="314.50" width="24.00" height="6.10" fill="#a5002b"/>
<text x="75.00" y="310.80" font-size="6.6" textLength="15.00" lengthAdjust="spacingAndGlyphs" font-style="italic" stroke="#231f20" stroke-width="0.170" >Runx1</text>
<text x="91.00" y="307.00" font-size="4.8" textLength="7.60" lengthAdjust="spacingAndGlyphs" stroke="#231f20" stroke-width="0.123" >+/+</text>
<text x="75.00" y="320.30" font-size="6.6" textLength="15.00" lengthAdjust="spacingAndGlyphs" font-style="italic" stroke="#231f20" stroke-width="0.170" >Runx1</text>
<text x="91.00" y="316.60" font-size="4.8" textLength="32.70" lengthAdjust="spacingAndGlyphs" stroke="#231f20" stroke-width="0.123" >KTAMK/KTAMK</text>
<line x1="48.10" y1="331.40" x2="48.10" y2="439.60" stroke="#231f20" stroke-width="0.9" />
<line x1="47.70" y1="429.70" x2="210.80" y2="429.70" stroke="#231f20" stroke-width="1.0" />
<line x1="44.90" y1="429.70" x2="48.10" y2="429.70" stroke="#231f20" stroke-width="0.8" />
<text x="42.20" y="431.90" font-size="7.6" text-anchor="end" textLength="4.15" lengthAdjust="spacingAndGlyphs" stroke="#231f20" stroke-width="0.195" >0</text>
<line x1="44.90" y1="407.65" x2="48.10" y2="407.65" stroke="#231f20" stroke-width="0.8" />
<text x="42.20" y="409.85" font-size="7.6" text-anchor="end" textLength="8.30" lengthAdjust="spacingAndGlyphs" stroke="#231f20" stroke-width="0.195" >20</text>
<line x1="44.90" y1="385.60" x2="48.10" y2="385.60" stroke="#231f20" stroke-width="0.8" />
<text x="42.20" y="387.80" font-size="7.6" text-anchor="end" textLength="8.30" lengthAdjust="spacingAndGlyphs" stroke="#231f20" stroke-width="0.195" >40</text>
<line x1="44.90" y1="363.55" x2="48.10" y2="363.55" stroke="#231f20" stroke-width="0.8" />
<text x="42.20" y="365.75" font-size="7.6" text-anchor="end" textLength="8.30" lengthAdjust="spacingAndGlyphs" stroke="#231f20" stroke-width="0.195" >60</text>
<line x1="44.90" y1="341.50" x2="48.10" y2="341.50" stroke="#231f20" stroke-width="0.8" />
<text x="42.20" y="343.70" font-size="7.6" text-anchor="end" textLength="8.30" lengthAdjust="spacingAndGlyphs" stroke="#231f20" stroke-width="0.195" >80</text>
<text x="28.00" y="380.00" font-size="8.4" text-anchor="middle" textLength="84.40" lengthAdjust="spacingAndGlyphs" stroke="#231f20" stroke-width="0.216" transform="rotate(-90 28.00 380.00)" >Relative mRNA expression</text>
<text x="16.00" y="439.00" font-size="7" textLength="28.90" lengthAdjust="spacingAndGlyphs" stroke="#231f20" stroke-width="0.180" >Radiation</text>
<line x1="101.60" y1="429.70" x2="101.60" y2="439.60" stroke="#231f20" stroke-width="1.0" />
<line x1="154.20" y1="429.70" x2="154.20" y2="439.60" stroke="#231f20" stroke-width="1.0" />
<line x1="207.80" y1="429.70" x2="207.80" y2="439.60" stroke="#231f20" stroke-width="1.0" />
<rect x="57.60" y="428.30" width="4.60" height="1.40" fill="#2d4a82"/>
<circle cx="59.90" cy="428.50" r="0.7" fill="#111"/>
<rect x="65.40" y="428.30" width="4.60" height="1.40" fill="#a5002b"/>
<circle cx="67.70" cy="428.50" r="0.7" fill="#111"/>
<rect x="82.60" y="409.30" width="6.20" height="20.40" fill="#2d4a82"/>
<line x1="85.70" y1="409.30" x2="85.70" y2="407.10" stroke="#231f20" stroke-width="0.85" />
<ellipse cx="85.30" cy="411.34" rx="0.75" ry="0.65" fill="#111"/>
<ellipse cx="86.20" cy="408.28" rx="0.75" ry="0.65" fill="#111"/>
<ellipse cx="85.30" cy="407.55" rx="0.75" ry="0.65" fill="#111"/>
<rect x="90.00" y="413.71" width="6.40" height="15.99" fill="#a5002b"/>
<line x1="93.20" y1="413.71" x2="93.20" y2="411.51" stroke="#231f20" stroke-width="0.85" />
<ellipse cx="93.70" cy="415.31" rx="0.75" ry="0.65" fill="#111"/>
<ellipse cx="92.80" cy="412.91" rx="0.75" ry="0.65" fill="#111"/>
<ellipse cx="93.70" cy="411.87" rx="0.75" ry="0.65" fill="#111"/>
<text x="63.60" y="439.00" font-size="6.6" text-anchor="middle" textLength="6.00" lengthAdjust="spacingAndGlyphs" stroke="#231f20" stroke-width="0.170" >(-)</text>
<text x="89.20" y="439.00" font-size="6.6" text-anchor="middle" textLength="8.00" lengthAdjust="spacingAndGlyphs" stroke="#231f20" stroke-width="0.170" >(+)</text>
<rect x="109.20" y="428.30" width="4.60" height="1.40" fill="#2d4a82"/>
<circle cx="111.50" cy="428.50" r="0.7" fill="#111"/>
<rect x="117.00" y="428.30" width="4.60" height="1.40" fill="#a5002b"/>
<circle cx="119.30" cy="428.50" r="0.7" fill="#111"/>
<rect x="134.20" y="353.63" width="6.20" height="76.07" fill="#2d4a82"/>
<line x1="137.30" y1="353.63" x2="137.30" y2="344.81" stroke="#231f20" stroke-width="0.85" />
<ellipse cx="136.90" cy="361.23" rx="0.75" ry="0.65" fill="#111"/>
<ellipse cx="137.80" cy="349.82" rx="0.75" ry="0.65" fill="#111"/>
<ellipse cx="136.90" cy="346.51" rx="0.75" ry="0.65" fill="#111"/>
<rect x="141.60" y="369.06" width="6.40" height="60.64" fill="#a5002b"/>
<line x1="144.80" y1="369.06" x2="144.80" y2="361.34" stroke="#231f20" stroke-width="0.85" />
<ellipse cx="144.40" cy="375.13" rx="0.75" ry="0.65" fill="#111"/>
<ellipse cx="144.40" cy="366.03" rx="0.75" ry="0.65" fill="#111"/>
<ellipse cx="145.30" cy="362.71" rx="0.75" ry="0.65" fill="#111"/>
<text x="115.20" y="439.00" font-size="6.6" text-anchor="middle" textLength="6.00" lengthAdjust="spacingAndGlyphs" stroke="#231f20" stroke-width="0.170" >(-)</text>
<text x="140.80" y="439.00" font-size="6.6" text-anchor="middle" textLength="8.00" lengthAdjust="spacingAndGlyphs" stroke="#231f20" stroke-width="0.170" >(+)</text>
<rect x="160.80" y="428.30" width="4.60" height="1.40" fill="#2d4a82"/>
<circle cx="163.10" cy="428.50" r="0.7" fill="#111"/>
<rect x="168.60" y="428.30" width="4.60" height="1.40" fill="#a5002b"/>
<circle cx="170.90" cy="428.50" r="0.7" fill="#111"/>
<rect x="185.80" y="345.36" width="6.20" height="84.34" fill="#2d4a82"/>
<line x1="188.90" y1="345.36" x2="188.90" y2="342.60" stroke="#231f20" stroke-width="0.85" />
<ellipse cx="189.40" cy="353.79" rx="0.75" ry="0.65" fill="#111"/>
<ellipse cx="188.50" cy="341.14" rx="0.75" ry="0.65" fill="#111"/>
<ellipse cx="189.40" cy="344.34" rx="0.75" ry="0.65" fill="#111"/>
<rect x="193.20" y="358.04" width="6.40" height="71.66" fill="#a5002b"/>
<line x1="196.40" y1="358.04" x2="196.40" y2="355.28" stroke="#231f20" stroke-width="0.85" />
<ellipse cx="196.90" cy="365.20" rx="0.75" ry="0.65" fill="#111"/>
<ellipse cx="196.90" cy="354.45" rx="0.75" ry="0.65" fill="#111"/>
<ellipse cx="196.90" cy="356.77" rx="0.75" ry="0.65" fill="#111"/>
<text x="166.80" y="439.00" font-size="6.6" text-anchor="middle" textLength="6.00" lengthAdjust="spacingAndGlyphs" stroke="#231f20" stroke-width="0.170" >(-)</text>
<text x="192.40" y="439.00" font-size="6.6" text-anchor="middle" textLength="8.00" lengthAdjust="spacingAndGlyphs" stroke="#231f20" stroke-width="0.170" >(+)</text>
<path d="M85.40,396.80 L85.40,395.05 L93.60,395.05 L93.60,396.80" stroke="#111" stroke-width="0.9" fill="none" stroke-linejoin="round" stroke-linecap="square"/>
<text x="89.80" y="392.30" font-size="6.2" text-anchor="middle" textLength="21.40" lengthAdjust="spacingAndGlyphs" stroke="#231f20" stroke-width="0.159" >p &lt; 0.01</text>
<path d="M137.20,336.80 L137.20,335.05 L145.60,335.05 L145.60,336.80" stroke="#111" stroke-width="0.9" fill="none" stroke-linejoin="round" stroke-linecap="square"/>
<text x="141.20" y="331.80" font-size="6.2" text-anchor="middle" textLength="22.30" lengthAdjust="spacingAndGlyphs" stroke="#231f20" stroke-width="0.159" >p &lt; 0.05</text>
<path d="M188.50,336.80 L188.50,335.05 L196.60,335.05 L196.60,336.80" stroke="#111" stroke-width="0.9" fill="none" stroke-linejoin="round" stroke-linecap="square"/>
<text x="192.80" y="331.80" font-size="6.2" text-anchor="middle" textLength="21.50" lengthAdjust="spacingAndGlyphs" stroke="#231f20" stroke-width="0.159" >p &lt; 0.01</text>
<text x="76.40" y="449.60" font-size="7" text-anchor="middle" textLength="37.30" lengthAdjust="spacingAndGlyphs" font-style="italic" stroke="#231f20" stroke-width="0.180" >Bbc3=Puma</text>
<text x="129.10" y="449.60" font-size="7" text-anchor="middle" textLength="45.10" lengthAdjust="spacingAndGlyphs" font-style="italic" stroke="#231f20" stroke-width="0.180" >Pmaip1=Noxa</text>
<text x="178.20" y="449.60" font-size="7" text-anchor="middle" textLength="36.90" lengthAdjust="spacingAndGlyphs" font-style="italic" stroke="#231f20" stroke-width="0.180" >Cdkn1a=P21</text>
<text x="256.70" y="353.20" font-size="8.8" textLength="47.10" lengthAdjust="spacingAndGlyphs" stroke="#231f20" stroke-width="0.226" >Annexin V+</text>
<rect x="243.80" y="358.30" width="72.00" height="71.10" fill="#fff" stroke="#8a8a8a" stroke-width="0.8"/>
<line x1="244.00" y1="358.00" x2="244.00" y2="429.80" stroke="#111" stroke-width="0.9" />
<line x1="243.60" y1="429.50" x2="316.20" y2="429.50" stroke="#111" stroke-width="0.9" />
<line x1="241.80" y1="429.50" x2="244.00" y2="429.50" stroke="#333" stroke-width="0.45" />
<line x1="242.60" y1="427.30" x2="244.00" y2="427.30" stroke="#333" stroke-width="0.45" />
<line x1="242.60" y1="425.10" x2="244.00" y2="425.10" stroke="#333" stroke-width="0.45" />
<line x1="242.60" y1="422.90" x2="244.00" y2="422.90" stroke="#333" stroke-width="0.45" />
<line x1="242.60" y1="420.70" x2="244.00" y2="420.70" stroke="#333" stroke-width="0.45" />
<line x1="242.60" y1="418.50" x2="244.00" y2="418.50" stroke="#333" stroke-width="0.45" />
<line x1="241.80" y1="416.30" x2="244.00" y2="416.30" stroke="#333" stroke-width="0.45" />
<line x1="242.60" y1="414.10" x2="244.00" y2="414.10" stroke="#333" stroke-width="0.45" />
<line x1="242.60" y1="411.90" x2="244.00" y2="411.90" stroke="#333" stroke-width="0.45" />
<line x1="242.60" y1="409.70" x2="244.00" y2="409.70" stroke="#333" stroke-width="0.45" />
<line x1="242.60" y1="407.50" x2="244.00" y2="407.50" stroke="#333" stroke-width="0.45" />
<line x1="242.60" y1="405.30" x2="244.00" y2="405.30" stroke="#333" stroke-width="0.45" />
<line x1="241.80" y1="403.10" x2="244.00" y2="403.10" stroke="#333" stroke-width="0.45" />
<line x1="242.60" y1="400.90" x2="244.00" y2="400.90" stroke="#333" stroke-width="0.45" />
<line x1="242.60" y1="398.70" x2="244.00" y2="398.70" stroke="#333" stroke-width="0.45" />
<line x1="242.60" y1="396.50" x2="244.00" y2="396.50" stroke="#333" stroke-width="0.45" />
<line x1="242.60" y1="394.30" x2="244.00" y2="394.30" stroke="#333" stroke-width="0.45" />
<line x1="242.60" y1="392.10" x2="244.00" y2="392.10" stroke="#333" stroke-width="0.45" />
<line x1="241.80" y1="389.90" x2="244.00" y2="389.90" stroke="#333" stroke-width="0.45" />
<line x1="242.60" y1="387.70" x2="244.00" y2="387.70" stroke="#333" stroke-width="0.45" />
<line x1="242.60" y1="385.50" x2="244.00" y2="385.50" stroke="#333" stroke-width="0.45" />
<line x1="242.60" y1="383.30" x2="244.00" y2="383.30" stroke="#333" stroke-width="0.45" />
<line x1="242.60" y1="381.10" x2="244.00" y2="381.10" stroke="#333" stroke-width="0.45" />
<line x1="242.60" y1="378.90" x2="244.00" y2="378.90" stroke="#333" stroke-width="0.45" />
<line x1="241.80" y1="376.70" x2="244.00" y2="376.70" stroke="#333" stroke-width="0.45" />
<line x1="242.60" y1="374.50" x2="244.00" y2="374.50" stroke="#333" stroke-width="0.45" />
<line x1="242.60" y1="372.30" x2="244.00" y2="372.30" stroke="#333" stroke-width="0.45" />
<line x1="242.60" y1="370.10" x2="244.00" y2="370.10" stroke="#333" stroke-width="0.45" />
<line x1="242.60" y1="367.90" x2="244.00" y2="367.90" stroke="#333" stroke-width="0.45" />
<line x1="242.60" y1="365.70" x2="244.00" y2="365.70" stroke="#333" stroke-width="0.45" />
<line x1="241.80" y1="363.50" x2="244.00" y2="363.50" stroke="#333" stroke-width="0.45" />
<line x1="242.60" y1="361.30" x2="244.00" y2="361.30" stroke="#333" stroke-width="0.45" />
<line x1="242.60" y1="359.10" x2="244.00" y2="359.10" stroke="#333" stroke-width="0.45" />
<line x1="252.00" y1="429.50" x2="252.00" y2="431.00" stroke="#555" stroke-width="0.45" />
<line x1="257.00" y1="429.50" x2="257.00" y2="431.00" stroke="#555" stroke-width="0.45" />
<line x1="262.00" y1="429.50" x2="262.00" y2="431.00" stroke="#555" stroke-width="0.45" />
<line x1="266.00" y1="429.50" x2="266.00" y2="431.00" stroke="#555" stroke-width="0.45" />
<line x1="270.00" y1="429.50" x2="270.00" y2="431.00" stroke="#555" stroke-width="0.45" />
<line x1="274.00" y1="429.50" x2="274.00" y2="431.00" stroke="#555" stroke-width="0.45" />
<line x1="281.00" y1="429.50" x2="281.00" y2="431.00" stroke="#555" stroke-width="0.45" />
<line x1="288.00" y1="429.50" x2="288.00" y2="431.00" stroke="#555" stroke-width="0.45" />
<line x1="295.00" y1="429.50" x2="295.00" y2="431.00" stroke="#555" stroke-width="0.45" />
<line x1="300.00" y1="429.50" x2="300.00" y2="431.00" stroke="#555" stroke-width="0.45" />
<line x1="308.00" y1="429.50" x2="308.00" y2="431.00" stroke="#555" stroke-width="0.45" />
<line x1="298.00" y1="361.70" x2="315.80" y2="361.70" stroke="#444" stroke-width="0.8" />
<line x1="298.00" y1="360.20" x2="298.00" y2="363.50" stroke="#444" stroke-width="0.8" />
<path d="M250.00,427.80 C252.12,427.75 259.52,427.65 262.69,427.54 C265.86,427.44 267.34,427.33 269.04,427.16 C270.73,426.99 271.79,426.63 272.84,426.53 C273.90,426.42 274.53,426.85 275.38,426.53 C276.23,426.21 277.07,425.26 277.92,424.62 C278.76,423.99 279.72,423.67 280.46,422.72 C281.20,421.77 281.73,420.18 282.36,418.91 C282.99,417.64 283.63,416.80 284.26,415.11 C284.90,413.41 285.53,411.30 286.17,408.76 C286.80,406.22 287.54,402.63 288.07,399.88 C288.60,397.13 288.96,395.01 289.34,392.26 C289.72,389.51 290.10,386.13 290.36,383.38 C290.61,380.63 290.61,377.35 290.86,375.77 C291.12,374.18 291.50,373.97 291.88,373.86 C292.26,373.76 292.83,375.66 293.15,375.13 C293.46,374.60 293.57,371.54 293.78,370.69 C293.99,369.84 294.20,369.63 294.42,370.06 C294.63,370.48 294.80,371.43 295.05,373.23 C295.30,375.03 295.62,378.83 295.94,380.84 C296.26,382.85 296.68,384.33 296.95,385.28 C297.23,386.24 297.38,385.60 297.59,386.55 C297.80,387.51 297.91,388.56 298.22,390.99 C298.54,393.43 299.07,398.19 299.49,401.15 C299.92,404.11 300.34,406.43 300.76,408.76 C301.18,411.09 301.50,412.78 302.03,415.11 C302.56,417.43 303.30,420.71 303.93,422.72 C304.57,424.73 305.20,426.32 305.84,427.16 C306.47,428.01 307.11,427.90 307.74,427.80 C308.38,427.69 309.01,426.95 309.64,426.53 C310.28,426.10 310.91,425.36 311.55,425.26 C312.18,425.15 312.82,425.51 313.45,425.89 C314.09,426.27 315.04,427.27 315.36,427.54" stroke="#3a5ca6" stroke-width="1.2" fill="none" stroke-linejoin="round" />
<path d="M250.00,427.80 C251.27,427.75 255.08,427.75 257.61,427.54 C260.15,427.33 262.90,427.12 265.23,426.53 C267.55,425.94 269.88,424.84 271.57,423.99 C273.27,423.14 274.11,422.30 275.38,421.45 C276.65,420.61 278.13,420.39 279.19,418.91 C280.25,417.43 281.09,414.68 281.73,412.57 C282.36,410.45 282.57,408.97 282.99,406.22 C283.42,403.47 283.84,399.46 284.26,396.07 C284.69,392.69 285.11,388.67 285.53,385.92 C285.96,383.17 286.38,381.69 286.80,379.57 C287.23,377.46 287.65,373.65 288.07,373.23 C288.49,372.81 288.87,375.34 289.34,377.04 C289.81,378.73 290.33,381.05 290.86,383.38 C291.39,385.71 291.92,388.25 292.51,390.99 C293.10,393.74 293.78,396.92 294.42,399.88 C295.05,402.84 295.69,406.01 296.32,408.76 C296.95,411.51 297.59,413.94 298.22,416.38 C298.86,418.81 299.49,421.56 300.13,423.36 C300.76,425.15 301.29,426.42 302.03,427.16 C302.77,427.90 302.24,427.73 304.57,427.80 C306.90,427.86 314.09,427.59 315.99,427.54" stroke="#c4173d" stroke-width="1.2" fill="none" stroke-linejoin="round" />
<path d="M257.61,427.80 C258.88,427.48 263.11,426.74 265.23,425.89 C267.34,425.05 268.82,424.10 270.30,422.72 C271.79,421.35 273.05,419.97 274.11,417.64 C275.17,415.32 275.80,412.36 276.65,408.76 C277.50,405.17 278.34,400.72 279.19,396.07 C280.03,391.42 280.99,384.86 281.73,380.84 C282.47,376.82 283.16,373.86 283.63,371.96 C284.09,370.06 284.20,369.42 284.52,369.42 C284.84,369.42 285.05,370.69 285.53,371.96 C286.02,373.23 286.91,374.71 287.44,377.04 C287.97,379.36 288.28,382.32 288.71,385.92 C289.13,389.51 289.55,394.80 289.97,398.61 C290.40,402.42 290.71,405.59 291.24,408.76 C291.77,411.93 292.51,415.11 293.15,417.64 C293.78,420.18 294.42,422.40 295.05,423.99 C295.69,425.58 296.21,426.53 296.95,427.16 C297.69,427.80 299.07,427.69 299.49,427.80" stroke="#3a5ca6" stroke-width="1.1" fill="none" stroke-linejoin="round" stroke-dasharray="1.3 0.9"/>
<path d="M255.08,427.54 C256.35,427.16 260.58,426.27 262.69,425.26 C264.81,424.24 266.18,422.93 267.77,421.45 C269.35,419.97 270.94,418.49 272.21,416.38 C273.48,414.26 274.32,412.15 275.38,408.76 C276.44,405.38 277.50,400.51 278.55,396.07 C279.61,391.63 280.77,385.92 281.73,382.11 C282.68,378.30 283.52,375.66 284.26,373.23 C285.00,370.80 285.64,368.89 286.17,367.52 C286.70,366.14 287.01,364.66 287.44,364.98 C287.86,365.30 288.22,366.99 288.71,369.42 C289.19,371.85 289.83,376.19 290.36,379.57 C290.88,382.96 291.31,386.13 291.88,389.73 C292.45,393.32 293.15,397.55 293.78,401.15 C294.42,404.74 294.95,408.13 295.69,411.30 C296.43,414.47 297.38,417.64 298.22,420.18 C299.07,422.72 299.92,425.26 300.76,426.53 C301.61,427.80 302.88,427.59 303.30,427.80" stroke="#c4173d" stroke-width="1.1" fill="none" stroke-linejoin="round" stroke-dasharray="1.3 0.9"/>
<path d="M244.4,427.6 L250,427.4" stroke="#c4173d" stroke-width="1.1"/>
<line x1="244.40" y1="436.20" x2="312.00" y2="436.20" stroke="#111" stroke-width="1.2" />
<path d="M316,436.2 L309.5,433.6 L310.8,436.2 L309.5,438.8 Z" fill="#111"/>
<text x="264.40" y="447.90" font-size="8.8" textLength="31.80" lengthAdjust="spacingAndGlyphs" stroke="#231f20" stroke-width="0.226" >Annexin V</text>
<text x="236.40" y="393.80" font-size="8.2" text-anchor="middle" textLength="65.50" lengthAdjust="spacingAndGlyphs" stroke="#231f20" stroke-width="0.211" transform="rotate(-90 236.40 393.80)" >Normalized to mode</text>
<line x1="319.00" y1="364.40" x2="333.80" y2="364.40" stroke="#3a5ca6" stroke-width="1.2" />
<text x="337.90" y="366.30" font-size="6.3" textLength="15.50" lengthAdjust="spacingAndGlyphs" fill="#3a5ca6" font-style="italic" stroke="#3a5ca6" stroke-width="0.162" >Runx1</text>
<text x="354.00" y="362.40" font-size="4.9" textLength="6.80" lengthAdjust="spacingAndGlyphs" fill="#3a5ca6" stroke="#3a5ca6" stroke-width="0.126" >+/+</text>
<text x="337.90" y="373.00" font-size="6.3" textLength="28.90" lengthAdjust="spacingAndGlyphs" stroke="#231f20" stroke-width="0.162" >+ Radiation</text>
<line x1="319.00" y1="382.60" x2="333.80" y2="382.60" stroke="#c4173d" stroke-width="1.2" />
<text x="337.90" y="384.10" font-size="6.3" textLength="15.50" lengthAdjust="spacingAndGlyphs" fill="#c4173d" font-style="italic" stroke="#c4173d" stroke-width="0.162" >Runx1</text>
<text x="354.00" y="380.40" font-size="4.9" textLength="32.00" lengthAdjust="spacingAndGlyphs" fill="#c4173d" stroke="#c4173d" stroke-width="0.126" >KTAMK/KTAMK</text>
<text x="337.90" y="390.80" font-size="6.3" textLength="28.90" lengthAdjust="spacingAndGlyphs" stroke="#231f20" stroke-width="0.162" >+ Radiation</text>
<line x1="319.00" y1="400.00" x2="333.80" y2="400.00" stroke="#3a5ca6" stroke-width="1.1" stroke-dasharray="1.3 0.9"/>
<text x="337.90" y="401.90" font-size="6.3" textLength="15.50" lengthAdjust="spacingAndGlyphs" fill="#3a5ca6" font-style="italic" stroke="#3a5ca6" stroke-width="0.162" >Runx1</text>
<text x="354.00" y="398.00" font-size="4.9" textLength="6.80" lengthAdjust="spacingAndGlyphs" fill="#3a5ca6" stroke="#3a5ca6" stroke-width="0.126" >+/+</text>
<line x1="319.00" y1="417.60" x2="333.80" y2="417.60" stroke="#c4173d" stroke-width="1.1" stroke-dasharray="1.3 0.9"/>
<text x="337.90" y="419.40" font-size="6.3" textLength="15.50" lengthAdjust="spacingAndGlyphs" fill="#c4173d" font-style="italic" stroke="#c4173d" stroke-width="0.162" >Runx1</text>
<text x="354.00" y="415.70" font-size="4.9" textLength="32.00" lengthAdjust="spacingAndGlyphs" fill="#c4173d" stroke="#c4173d" stroke-width="0.126" >KTAMK/KTAMK</text>
<rect x="430.50" y="333.00" width="23.30" height="6.30" fill="#2d4a82"/>
<rect x="430.50" y="342.50" width="23.30" height="6.30" fill="#a5002b"/>
<text x="457.50" y="337.80" font-size="6.6" textLength="14.00" lengthAdjust="spacingAndGlyphs" font-style="italic" stroke="#231f20" stroke-width="0.170" >Runx1</text>
<text x="472.00" y="334.20" font-size="4.8" textLength="8.50" lengthAdjust="spacingAndGlyphs" stroke="#231f20" stroke-width="0.123" >+/+</text>
<text x="457.50" y="347.30" font-size="6.6" textLength="14.00" lengthAdjust="spacingAndGlyphs" font-style="italic" stroke="#231f20" stroke-width="0.170" >Runx1</text>
<text x="472.00" y="343.80" font-size="4.8" textLength="34.00" lengthAdjust="spacingAndGlyphs" stroke="#231f20" stroke-width="0.123" >KTAMK/KTAMK</text>
<line x1="424.25" y1="358.70" x2="424.25" y2="429.70" stroke="#231f20" stroke-width="1.0" />
<line x1="423.80" y1="429.25" x2="512.50" y2="429.25" stroke="#231f20" stroke-width="1.0" />
<line x1="421.30" y1="429.25" x2="424.25" y2="429.25" stroke="#231f20" stroke-width="0.8" />
<text x="419.00" y="431.45" font-size="7.6" text-anchor="end" textLength="4.20" lengthAdjust="spacingAndGlyphs" stroke="#231f20" stroke-width="0.195" >0</text>
<line x1="421.30" y1="406.75" x2="424.25" y2="406.75" stroke="#231f20" stroke-width="0.8" />
<text x="419.00" y="408.95" font-size="7.6" text-anchor="end" textLength="4.20" lengthAdjust="spacingAndGlyphs" stroke="#231f20" stroke-width="0.195" >5</text>
<line x1="421.30" y1="384.25" x2="424.25" y2="384.25" stroke="#231f20" stroke-width="0.8" />
<text x="419.00" y="386.45" font-size="7.6" text-anchor="end" textLength="8.40" lengthAdjust="spacingAndGlyphs" stroke="#231f20" stroke-width="0.195" >10</text>
<line x1="421.30" y1="361.75" x2="424.25" y2="361.75" stroke="#231f20" stroke-width="0.8" />
<text x="419.00" y="363.95" font-size="7.6" text-anchor="end" textLength="8.40" lengthAdjust="spacingAndGlyphs" stroke="#231f20" stroke-width="0.195" >15</text>
<rect x="437.00" y="422.95" width="10.00" height="6.30" fill="#2d4a82"/>
<line x1="442.00" y1="422.95" x2="442.00" y2="420.25" stroke="#231f20" stroke-width="0.85" />
<ellipse cx="441.60" cy="424.75" rx="0.75" ry="0.65" fill="#111"/>
<ellipse cx="441.60" cy="421.15" rx="0.75" ry="0.65" fill="#111"/>
<rect x="449.25" y="420.02" width="10.00" height="9.23" fill="#a5002b"/>
<line x1="454.25" y1="420.02" x2="454.25" y2="417.10" stroke="#231f20" stroke-width="0.85" />
<ellipse cx="453.85" cy="418.90" rx="0.75" ry="0.65" fill="#111"/>
<ellipse cx="453.85" cy="417.55" rx="0.75" ry="0.65" fill="#111"/>
<rect x="477.50" y="379.30" width="10.00" height="49.95" fill="#2d4a82"/>
<line x1="482.50" y1="379.30" x2="482.50" y2="368.50" stroke="#231f20" stroke-width="0.85" />
<ellipse cx="483.00" cy="368.95" rx="0.75" ry="0.65" fill="#111"/>
<ellipse cx="483.00" cy="389.65" rx="0.75" ry="0.65" fill="#111"/>
<rect x="490.00" y="401.80" width="9.50" height="27.45" fill="#a5002b"/>
<line x1="494.75" y1="401.80" x2="494.75" y2="393.25" stroke="#231f20" stroke-width="0.85" />
<ellipse cx="494.35" cy="395.50" rx="0.75" ry="0.65" fill="#111"/>
<ellipse cx="495.25" cy="398.65" rx="0.75" ry="0.65" fill="#111"/>
<ellipse cx="494.35" cy="411.25" rx="0.75" ry="0.65" fill="#111"/>
<path d="M441.25,411.30 L441.25,409.25 L455.00,409.25 L455.00,411.30" stroke="#111" stroke-width="0.9" fill="none" stroke-linejoin="round" stroke-linecap="square"/>
<text x="448.50" y="407.30" font-size="6.2" text-anchor="middle" textLength="8.00" lengthAdjust="spacingAndGlyphs" stroke="#231f20" stroke-width="0.159" >NS</text>
<path d="M482.50,364.60 L482.50,362.65 L495.00,362.65 L495.00,364.60" stroke="#111" stroke-width="0.9" fill="none" stroke-linejoin="round" stroke-linecap="square"/>
<text x="489.20" y="359.40" font-size="6.2" text-anchor="middle" textLength="22.50" lengthAdjust="spacingAndGlyphs" stroke="#231f20" stroke-width="0.159" >p &lt; 0.05</text>
<text x="405.60" y="394.40" font-size="8.8" text-anchor="middle" textLength="51.50" lengthAdjust="spacingAndGlyphs" stroke="#231f20" stroke-width="0.226" transform="rotate(-90 405.60 394.40)" >Annexin V+ (%)</text>
<text x="400.00" y="439.00" font-size="7" textLength="29.50" lengthAdjust="spacingAndGlyphs" stroke="#231f20" stroke-width="0.180" >Radiation</text>
<text x="448.10" y="439.00" font-size="6.6" text-anchor="middle" textLength="6.20" lengthAdjust="spacingAndGlyphs" stroke="#231f20" stroke-width="0.170" >(-)</text>
<text x="488.10" y="439.00" font-size="6.6" text-anchor="middle" textLength="8.70" lengthAdjust="spacingAndGlyphs" stroke="#231f20" stroke-width="0.170" >(+)</text>
<rect x="47.60" y="485.60" width="72.40" height="71.60" fill="#fff" stroke="#8a8a8a" stroke-width="0.8"/>
<line x1="47.80" y1="485.30" x2="47.80" y2="557.60" stroke="#111" stroke-width="0.9" />
<line x1="47.40" y1="557.20" x2="120.30" y2="557.20" stroke="#111" stroke-width="0.9" />
<line x1="45.60" y1="557.20" x2="47.80" y2="557.20" stroke="#333" stroke-width="0.45" />
<line x1="46.40" y1="555.00" x2="47.80" y2="555.00" stroke="#333" stroke-width="0.45" />
<line x1="46.40" y1="552.80" x2="47.80" y2="552.80" stroke="#333" stroke-width="0.45" />
<line x1="46.40" y1="550.60" x2="47.80" y2="550.60" stroke="#333" stroke-width="0.45" />
<line x1="46.40" y1="548.40" x2="47.80" y2="548.40" stroke="#333" stroke-width="0.45" />
<line x1="46.40" y1="546.20" x2="47.80" y2="546.20" stroke="#333" stroke-width="0.45" />
<line x1="45.60" y1="544.00" x2="47.80" y2="544.00" stroke="#333" stroke-width="0.45" />
<line x1="46.40" y1="541.80" x2="47.80" y2="541.80" stroke="#333" stroke-width="0.45" />
<line x1="46.40" y1="539.60" x2="47.80" y2="539.60" stroke="#333" stroke-width="0.45" />
<line x1="46.40" y1="537.40" x2="47.80" y2="537.40" stroke="#333" stroke-width="0.45" />
<line x1="46.40" y1="535.20" x2="47.80" y2="535.20" stroke="#333" stroke-width="0.45" />
<line x1="46.40" y1="533.00" x2="47.80" y2="533.00" stroke="#333" stroke-width="0.45" />
<line x1="45.60" y1="530.80" x2="47.80" y2="530.80" stroke="#333" stroke-width="0.45" />
<line x1="46.40" y1="528.60" x2="47.80" y2="528.60" stroke="#333" stroke-width="0.45" />
<line x1="46.40" y1="526.40" x2="47.80" y2="526.40" stroke="#333" stroke-width="0.45" />
<line x1="46.40" y1="524.20" x2="47.80" y2="524.20" stroke="#333" stroke-width="0.45" />
<line x1="46.40" y1="522.00" x2="47.80" y2="522.00" stroke="#333" stroke-width="0.45" />
<line x1="46.40" y1="519.80" x2="47.80" y2="519.80" stroke="#333" stroke-width="0.45" />
<line x1="45.60" y1="517.60" x2="47.80" y2="517.60" stroke="#333" stroke-width="0.45" />
<line x1="46.40" y1="515.40" x2="47.80" y2="515.40" stroke="#333" stroke-width="0.45" />
<line x1="46.40" y1="513.20" x2="47.80" y2="513.20" stroke="#333" stroke-width="0.45" />
<line x1="46.40" y1="511.00" x2="47.80" y2="511.00" stroke="#333" stroke-width="0.45" />
<line x1="46.40" y1="508.80" x2="47.80" y2="508.80" stroke="#333" stroke-width="0.45" />
<line x1="46.40" y1="506.60" x2="47.80" y2="506.60" stroke="#333" stroke-width="0.45" />
<line x1="45.60" y1="504.40" x2="47.80" y2="504.40" stroke="#333" stroke-width="0.45" />
<line x1="46.40" y1="502.20" x2="47.80" y2="502.20" stroke="#333" stroke-width="0.45" />
<line x1="46.40" y1="500.00" x2="47.80" y2="500.00" stroke="#333" stroke-width="0.45" />
<line x1="46.40" y1="497.80" x2="47.80" y2="497.80" stroke="#333" stroke-width="0.45" />
<line x1="46.40" y1="495.60" x2="47.80" y2="495.60" stroke="#333" stroke-width="0.45" />
<line x1="46.40" y1="493.40" x2="47.80" y2="493.40" stroke="#333" stroke-width="0.45" />
<line x1="45.60" y1="491.20" x2="47.80" y2="491.20" stroke="#333" stroke-width="0.45" />
<line x1="46.40" y1="489.00" x2="47.80" y2="489.00" stroke="#333" stroke-width="0.45" />
<line x1="46.40" y1="486.80" x2="47.80" y2="486.80" stroke="#333" stroke-width="0.45" />
<line x1="52.00" y1="557.20" x2="52.00" y2="558.60" stroke="#555" stroke-width="0.45" />
<line x1="55.00" y1="557.20" x2="55.00" y2="558.60" stroke="#555" stroke-width="0.45" />
<line x1="58.00" y1="557.20" x2="58.00" y2="558.60" stroke="#555" stroke-width="0.45" />
<line x1="61.00" y1="557.20" x2="61.00" y2="558.60" stroke="#555" stroke-width="0.45" />
<line x1="64.00" y1="557.20" x2="64.00" y2="558.60" stroke="#555" stroke-width="0.45" />
<line x1="68.00" y1="557.20" x2="68.00" y2="558.60" stroke="#555" stroke-width="0.45" />
<line x1="74.00" y1="557.20" x2="74.00" y2="558.60" stroke="#555" stroke-width="0.45" />
<line x1="79.00" y1="557.20" x2="79.00" y2="558.60" stroke="#555" stroke-width="0.45" />
<line x1="84.00" y1="557.20" x2="84.00" y2="558.60" stroke="#555" stroke-width="0.45" />
<line x1="89.00" y1="557.20" x2="89.00" y2="558.60" stroke="#555" stroke-width="0.45" />
<line x1="96.00" y1="557.20" x2="96.00" y2="558.60" stroke="#555" stroke-width="0.45" />
<line x1="104.00" y1="557.20" x2="104.00" y2="558.60" stroke="#555" stroke-width="0.45" />
<line x1="110.00" y1="557.20" x2="110.00" y2="558.60" stroke="#555" stroke-width="0.45" />
<line x1="116.00" y1="557.20" x2="116.00" y2="558.60" stroke="#555" stroke-width="0.45" />
<line x1="83.40" y1="489.10" x2="120.00" y2="489.10" stroke="#444" stroke-width="0.8" />
<line x1="83.40" y1="487.40" x2="83.40" y2="490.90" stroke="#444" stroke-width="0.8" />
<text x="91.20" y="498.40" font-size="6.8" textLength="20.20" lengthAdjust="spacingAndGlyphs" stroke="#231f20" stroke-width="0.175" >γH2AX+</text>
<path d="M47.14,556.89 C50.09,556.89 61.70,558.57 64.86,556.89 C68.03,555.20 65.70,552.24 66.13,546.76 C66.55,541.27 67.03,531.57 67.39,523.97 C67.75,516.38 68.03,505.94 68.28,501.19 C68.53,496.44 68.68,494.86 68.91,495.49 C69.14,496.13 69.40,500.24 69.67,504.99 C69.95,509.73 70.20,517.65 70.56,523.97 C70.92,530.30 71.40,537.90 71.82,542.96 C72.24,548.03 72.67,552.03 73.09,554.35 C73.51,556.68 72.98,556.46 74.35,556.89 C75.73,557.31 80.16,556.89 81.32,556.89" stroke="#e8a33a" stroke-width="1.3" fill="none" stroke-linejoin="round" />
<path d="M47.14,556.89 C50.51,556.89 63.59,557.73 67.39,556.89 C71.19,556.04 69.19,554.35 69.92,551.82 C70.66,549.29 71.19,545.70 71.82,541.70 C72.46,537.69 73.19,531.99 73.72,527.77 C74.25,523.55 74.61,519.97 74.99,516.38 C75.37,512.79 75.68,509.21 76.00,506.25 C76.32,503.30 76.63,500.56 76.89,498.66 C77.14,496.76 77.24,494.65 77.52,494.86 C77.79,495.07 78.22,498.87 78.53,499.92 C78.85,500.98 79.06,500.56 79.42,501.19 C79.78,501.82 80.26,502.03 80.68,503.72 C81.11,505.41 81.53,508.36 81.95,511.32 C82.37,514.27 82.79,518.49 83.22,521.44 C83.64,524.40 84.06,526.51 84.48,529.04 C84.90,531.57 85.32,534.52 85.75,536.63 C86.17,538.74 86.49,539.80 87.01,541.70 C87.54,543.59 88.17,546.13 88.91,548.03 C89.65,549.92 90.60,551.72 91.44,553.09 C92.29,554.46 93.34,555.62 93.97,556.25 C94.61,556.89 93.55,556.82 95.24,556.89 C96.93,556.95 99.99,556.68 104.10,556.63 C108.22,556.59 117.29,556.63 119.92,556.63" stroke="#3a5ca6" stroke-width="1.2" fill="none" stroke-linejoin="round" />
<path d="M47.14,556.89 C50.73,556.89 64.65,557.52 68.66,556.89 C72.67,556.25 70.45,555.20 71.19,553.09 C71.93,550.98 72.50,547.39 73.09,544.23 C73.68,541.06 74.21,538.32 74.73,534.10 C75.26,529.88 75.79,522.71 76.25,518.91 C76.72,515.11 77.10,513.64 77.52,511.32 C77.94,509.00 78.36,506.89 78.78,504.99 C79.21,503.09 79.73,501.19 80.05,499.92 C80.37,498.66 80.37,496.97 80.68,497.39 C81.00,497.81 81.53,501.19 81.95,502.46 C82.37,503.72 82.79,503.09 83.22,504.99 C83.64,506.89 83.95,510.68 84.48,513.85 C85.01,517.01 85.75,520.39 86.38,523.97 C87.01,527.56 87.65,531.99 88.28,535.37 C88.91,538.74 89.44,541.49 90.18,544.23 C90.92,546.97 91.86,549.92 92.71,551.82 C93.55,553.72 94.50,554.78 95.24,555.62 C95.98,556.46 94.82,556.76 97.14,556.89 C99.46,557.01 105.37,556.44 109.16,556.38 C112.96,556.32 118.13,556.49 119.92,556.51" stroke="#c4173d" stroke-width="1.2" fill="none" stroke-linejoin="round" />
<path d="M63.59,556.89 C64.02,556.89 65.39,557.73 66.13,556.89 C66.86,556.04 67.39,554.78 68.03,551.82 C68.66,548.87 69.40,543.81 69.92,539.16 C70.45,534.52 70.77,529.04 71.19,523.97 C71.61,518.91 72.10,512.79 72.46,508.78 C72.81,504.78 73.09,501.82 73.34,499.92 C73.59,498.03 73.70,496.55 73.97,497.39 C74.25,498.24 74.61,501.61 74.99,504.99 C75.37,508.36 75.73,513.43 76.25,517.65 C76.78,521.86 77.41,526.30 78.15,530.30 C78.89,534.31 79.84,538.32 80.68,541.70 C81.53,545.07 82.27,548.13 83.22,550.56 C84.16,552.98 85.54,555.20 86.38,556.25 C87.22,557.31 87.43,556.78 88.28,556.89 C89.12,556.99 90.92,556.89 91.44,556.89" stroke="#3a5ca6" stroke-width="1.1" fill="none" stroke-linejoin="round" stroke-dasharray="1.3 0.9"/>
<path d="M63.59,556.89 C64.02,556.89 65.28,558.15 66.13,556.89 C66.97,555.62 67.92,553.09 68.66,549.29 C69.40,545.49 69.92,540.01 70.56,534.10 C71.19,528.19 71.89,519.33 72.46,513.85 C73.03,508.36 73.55,504.57 73.97,501.19 C74.40,497.81 74.65,493.81 74.99,493.59 C75.32,493.38 75.58,496.97 76.00,499.92 C76.42,502.88 76.95,507.31 77.52,511.32 C78.09,515.32 78.68,519.76 79.42,523.97 C80.16,528.19 81.00,532.84 81.95,536.63 C82.90,540.43 84.06,543.81 85.11,546.76 C86.17,549.71 87.33,552.67 88.28,554.35 C89.23,556.04 89.86,556.46 90.81,556.89 C91.76,557.31 93.45,556.89 93.97,556.89" stroke="#c4173d" stroke-width="1.1" fill="none" stroke-linejoin="round" stroke-dasharray="1.3 0.9"/>
<line x1="48.30" y1="563.90" x2="116.00" y2="563.90" stroke="#111" stroke-width="1.2" />
<path d="M120,563.9 L113.2,561.2 L114.6,563.9 L113.2,566.6 Z" fill="#111"/>
<text x="73.30" y="575.20" font-size="8.8" textLength="21.40" lengthAdjust="spacingAndGlyphs" stroke="#231f20" stroke-width="0.226" >γH2AX</text>
<text x="40.20" y="521.60" font-size="8.2" text-anchor="middle" textLength="66.80" lengthAdjust="spacingAndGlyphs" stroke="#231f20" stroke-width="0.211" transform="rotate(-90 40.20 521.60)" >Normalized to mode</text>
<line x1="123.30" y1="500.60" x2="138.10" y2="500.60" stroke="#3a5ca6" stroke-width="1.4" />
<line x1="123.30" y1="511.80" x2="138.10" y2="511.80" stroke="#c4173d" stroke-width="1.4" />
<line x1="123.30" y1="522.80" x2="138.10" y2="522.80" stroke="#3a5ca6" stroke-width="1.2" stroke-dasharray="1.1 0.9"/>
<line x1="123.30" y1="534.40" x2="138.10" y2="534.40" stroke="#c4173d" stroke-width="1.2" stroke-dasharray="1.1 0.9"/>
<line x1="123.30" y1="545.40" x2="138.10" y2="545.40" stroke="#e8a33a" stroke-width="1.4" />
<text x="141.30" y="503.20" font-size="6.3" textLength="14.70" lengthAdjust="spacingAndGlyphs" fill="#3a5ca6" font-style="italic" stroke="#3a5ca6" stroke-width="0.162" >Runx1</text>
<text x="157.00" y="500.00" font-size="4.9" textLength="7.50" lengthAdjust="spacingAndGlyphs" fill="#3a5ca6" stroke="#3a5ca6" stroke-width="0.126" >+/+</text>
<text x="167.00" y="503.20" font-size="6.3" textLength="28.80" lengthAdjust="spacingAndGlyphs" stroke="#231f20" stroke-width="0.162" >+ Radiation</text>
<text x="141.30" y="514.20" font-size="6.3" textLength="14.70" lengthAdjust="spacingAndGlyphs" fill="#c4173d" font-style="italic" stroke="#c4173d" stroke-width="0.162" >Runx1</text>
<text x="157.00" y="511.20" font-size="4.9" textLength="33.00" lengthAdjust="spacingAndGlyphs" fill="#c4173d" stroke="#c4173d" stroke-width="0.126" >KTAMK/KTAMK</text>
<text x="191.00" y="514.20" font-size="6.3" textLength="30.20" lengthAdjust="spacingAndGlyphs" stroke="#231f20" stroke-width="0.162" >+ Radiation</text>
<text x="141.30" y="525.10" font-size="6.3" textLength="14.70" lengthAdjust="spacingAndGlyphs" fill="#3a5ca6" font-style="italic" stroke="#3a5ca6" stroke-width="0.162" >Runx1</text>
<text x="157.00" y="521.90" font-size="4.9" textLength="7.50" lengthAdjust="spacingAndGlyphs" fill="#3a5ca6" stroke="#3a5ca6" stroke-width="0.126" >+/+</text>
<text x="141.30" y="536.90" font-size="6.3" textLength="14.70" lengthAdjust="spacingAndGlyphs" fill="#c4173d" font-style="italic" stroke="#c4173d" stroke-width="0.162" >Runx1</text>
<text x="157.00" y="534.00" font-size="4.9" textLength="33.00" lengthAdjust="spacingAndGlyphs" fill="#c4173d" stroke="#c4173d" stroke-width="0.126" >KTAMK/KTAMK</text>
<text x="141.30" y="548.20" font-size="6.3" textLength="13.10" lengthAdjust="spacingAndGlyphs" stroke="#231f20" stroke-width="0.162" >FMO</text>
<line x1="261.20" y1="478.70" x2="261.20" y2="557.50" stroke="#231f20" stroke-width="1.0" />
<line x1="260.80" y1="557.10" x2="360.00" y2="557.10" stroke="#231f20" stroke-width="1.0" />
<line x1="258.30" y1="557.10" x2="261.20" y2="557.10" stroke="#231f20" stroke-width="0.8" />
<text x="255.40" y="559.30" font-size="7.6" text-anchor="end" textLength="3.80" lengthAdjust="spacingAndGlyphs" stroke="#231f20" stroke-width="0.195" >0</text>
<line x1="258.30" y1="534.75" x2="261.20" y2="534.75" stroke="#231f20" stroke-width="0.8" />
<text x="255.40" y="536.95" font-size="7.6" text-anchor="end" textLength="7.60" lengthAdjust="spacingAndGlyphs" stroke="#231f20" stroke-width="0.195" >10</text>
<line x1="258.30" y1="512.40" x2="261.20" y2="512.40" stroke="#231f20" stroke-width="0.8" />
<text x="255.40" y="514.60" font-size="7.6" text-anchor="end" textLength="7.60" lengthAdjust="spacingAndGlyphs" stroke="#231f20" stroke-width="0.195" >20</text>
<line x1="258.30" y1="490.05" x2="261.20" y2="490.05" stroke="#231f20" stroke-width="0.8" />
<text x="255.40" y="492.25" font-size="7.6" text-anchor="end" textLength="7.60" lengthAdjust="spacingAndGlyphs" stroke="#231f20" stroke-width="0.195" >30</text>
<rect x="275.70" y="555.09" width="11.40" height="2.01" fill="#2d4a82"/>
<line x1="281.40" y1="555.09" x2="281.40" y2="554.19" stroke="#231f20" stroke-width="0.85" />
<ellipse cx="281.00" cy="554.87" rx="0.75" ry="0.65" fill="#111"/>
<ellipse cx="281.00" cy="554.42" rx="0.75" ry="0.65" fill="#111"/>
<rect x="289.50" y="553.86" width="11.00" height="3.24" fill="#a5002b"/>
<line x1="295.00" y1="553.86" x2="295.00" y2="548.61" stroke="#231f20" stroke-width="0.85" />
<ellipse cx="295.50" cy="555.98" rx="0.75" ry="0.65" fill="#111"/>
<ellipse cx="295.50" cy="549.05" rx="0.75" ry="0.65" fill="#111"/>
<rect x="320.50" y="521.56" width="7.50" height="35.54" fill="#2d4a82"/>
<line x1="324.25" y1="521.56" x2="324.25" y2="515.08" stroke="#231f20" stroke-width="0.85" />
<ellipse cx="324.75" cy="515.75" rx="0.75" ry="0.65" fill="#111"/>
<ellipse cx="323.85" cy="535.87" rx="0.75" ry="0.65" fill="#111"/>
<rect x="329.40" y="517.76" width="7.60" height="39.34" fill="#6aac45"/>
<line x1="333.20" y1="517.76" x2="333.20" y2="509.72" stroke="#231f20" stroke-width="0.85" />
<ellipse cx="333.70" cy="511.28" rx="0.75" ry="0.65" fill="#111"/>
<ellipse cx="332.80" cy="519.11" rx="0.75" ry="0.65" fill="#111"/>
<ellipse cx="332.80" cy="525.81" rx="0.75" ry="0.65" fill="#111"/>
<rect x="338.10" y="486.70" width="7.80" height="70.40" fill="#a5002b"/>
<line x1="342.00" y1="486.70" x2="342.00" y2="480.66" stroke="#231f20" stroke-width="0.85" />
<ellipse cx="341.60" cy="482.23" rx="0.75" ry="0.65" fill="#111"/>
<ellipse cx="342.50" cy="488.93" rx="0.75" ry="0.65" fill="#111"/>
<path d="M281.40,540.80 L281.40,538.85 L295.60,538.85 L295.60,540.80" stroke="#111" stroke-width="0.9" fill="none" stroke-linejoin="round" stroke-linecap="square"/>
<text x="288.40" y="536.60" font-size="6.2" text-anchor="middle" textLength="8.40" lengthAdjust="spacingAndGlyphs" stroke="#231f20" stroke-width="0.159" >NS</text>
<path d="M323.70,477.10 L323.70,475.05 L342.10,475.05 L342.10,477.10" stroke="#111" stroke-width="0.9" fill="none" stroke-linejoin="round" stroke-linecap="square"/>
<text x="333.20" y="471.90" font-size="6.2" text-anchor="middle" textLength="21.10" lengthAdjust="spacingAndGlyphs" stroke="#231f20" stroke-width="0.159" >p &lt; 0.01</text>
<text x="242.60" y="519.10" font-size="8.8" text-anchor="middle" textLength="43.20" lengthAdjust="spacingAndGlyphs" stroke="#231f20" stroke-width="0.226" transform="rotate(-90 242.60 519.10)" >γH2AX+ (%)</text>
<text x="230.80" y="566.90" font-size="7" textLength="28.80" lengthAdjust="spacingAndGlyphs" stroke="#231f20" stroke-width="0.180" >Radiation</text>
<text x="288.40" y="566.90" font-size="6.6" text-anchor="middle" textLength="5.80" lengthAdjust="spacingAndGlyphs" stroke="#231f20" stroke-width="0.170" >(-)</text>
<text x="332.40" y="566.90" font-size="6.6" text-anchor="middle" textLength="7.30" lengthAdjust="spacingAndGlyphs" stroke="#231f20" stroke-width="0.170" >(+)</text>
<rect x="363.50" y="482.00" width="23.80" height="6.50" fill="#2d4a82"/>
<rect x="363.50" y="491.80" width="23.80" height="6.40" fill="#6aac45"/>
<rect x="363.50" y="501.50" width="23.80" height="6.30" fill="#a5002b"/>
<text x="390.70" y="487.60" font-size="6.9" textLength="14.30" lengthAdjust="spacingAndGlyphs" font-style="italic" stroke="#231f20" stroke-width="0.177" >Runx1</text>
<text x="406.00" y="483.90" font-size="5.0" textLength="8.60" lengthAdjust="spacingAndGlyphs" stroke="#231f20" stroke-width="0.129" >+/+</text>
<text x="390.70" y="496.90" font-size="6.9" textLength="14.30" lengthAdjust="spacingAndGlyphs" font-style="italic" stroke="#231f20" stroke-width="0.177" >Runx1</text>
<text x="406.00" y="493.20" font-size="5.0" textLength="21.00" lengthAdjust="spacingAndGlyphs" stroke="#231f20" stroke-width="0.129" >+/KTAMK</text>
<text x="390.70" y="506.60" font-size="6.9" textLength="14.30" lengthAdjust="spacingAndGlyphs" font-style="italic" stroke="#231f20" stroke-width="0.177" >Runx1</text>
<text x="406.00" y="502.80" font-size="5.0" textLength="32.50" lengthAdjust="spacingAndGlyphs" stroke="#231f20" stroke-width="0.129" >KTAMK/KTAMK</text>
</g></svg></body></html>
